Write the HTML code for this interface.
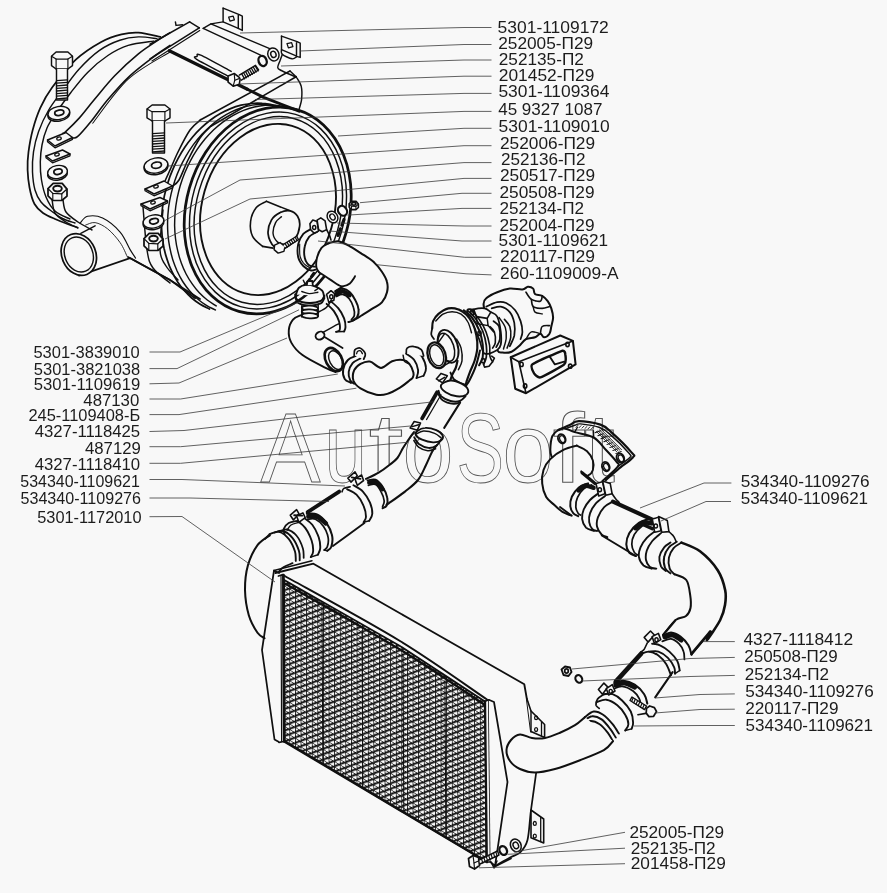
<!DOCTYPE html>
<html><head><meta charset="utf-8"><title>diagram</title>
<style>
html,body{margin:0;padding:0;background:#f8f8f8;}
body{width:887px;height:893px;overflow:hidden;font-family:"Liberation Sans",sans-serif;}
svg{display:block;}
</style></head><body>
<svg width="887" height="893" viewBox="0 0 887 893">
<rect width="887" height="893" fill="#f8f8f8"/>
<g id="labels" style="will-change:transform" fill="#1c1c1c" font-family="'Liberation Sans', sans-serif">
<text x="497.6" y="33.0" textLength="111.2" lengthAdjust="spacingAndGlyphs" font-size="16.3">5301-1109172</text>
<text x="498.2" y="49.4" textLength="95.0" lengthAdjust="spacingAndGlyphs" font-size="16.3">252005-П29</text>
<text x="498.8" y="65.0" textLength="85.0" lengthAdjust="spacingAndGlyphs" font-size="16.3">252135-П2</text>
<text x="498.8" y="80.9" textLength="95.5" lengthAdjust="spacingAndGlyphs" font-size="16.3">201452-П29</text>
<text x="498.4" y="97.0" textLength="111.0" lengthAdjust="spacingAndGlyphs" font-size="16.3">5301-1109364</text>
<text x="498.2" y="114.9" textLength="104.2" lengthAdjust="spacingAndGlyphs" font-size="16.3">45 9327 1087</text>
<text x="498.6" y="131.6" textLength="111.0" lengthAdjust="spacingAndGlyphs" font-size="16.3">5301-1109010</text>
<text x="500.0" y="148.5" textLength="95.1" lengthAdjust="spacingAndGlyphs" font-size="16.3">252006-П29</text>
<text x="500.9" y="164.7" textLength="84.5" lengthAdjust="spacingAndGlyphs" font-size="16.3">252136-П2</text>
<text x="500.0" y="181.2" textLength="95.0" lengthAdjust="spacingAndGlyphs" font-size="16.3">250517-П29</text>
<text x="499.5" y="197.9" textLength="95.0" lengthAdjust="spacingAndGlyphs" font-size="16.3">250508-П29</text>
<text x="499.5" y="213.9" textLength="84.5" lengthAdjust="spacingAndGlyphs" font-size="16.3">252134-П2</text>
<text x="499.5" y="230.8" textLength="95.0" lengthAdjust="spacingAndGlyphs" font-size="16.3">252004-П29</text>
<text x="498.6" y="246.1" textLength="109.5" lengthAdjust="spacingAndGlyphs" font-size="16.3">5301-1109621</text>
<text x="500.0" y="261.9" textLength="95.0" lengthAdjust="spacingAndGlyphs" font-size="16.3">220117-П29</text>
<text x="500.0" y="279.3" textLength="118.6" lengthAdjust="spacingAndGlyphs" font-size="16.3">260-1109009-А</text>
<text x="33.4" y="358.2" textLength="106.4" lengthAdjust="spacingAndGlyphs" font-size="16.3">5301-3839010</text>
<text x="33.8" y="374.5" textLength="106.4" lengthAdjust="spacingAndGlyphs" font-size="16.3">5301-3821038</text>
<text x="33.8" y="390.2" textLength="106.4" lengthAdjust="spacingAndGlyphs" font-size="16.3">5301-1109619</text>
<text x="83.3" y="405.6" textLength="56.0" lengthAdjust="spacingAndGlyphs" font-size="16.3">487130</text>
<text x="28.4" y="421.1" textLength="111.8" lengthAdjust="spacingAndGlyphs" font-size="16.3">245-1109408-Б</text>
<text x="34.7" y="436.5" textLength="105.5" lengthAdjust="spacingAndGlyphs" font-size="16.3">4327-1118425</text>
<text x="84.9" y="453.8" textLength="56.0" lengthAdjust="spacingAndGlyphs" font-size="16.3">487129</text>
<text x="34.7" y="469.6" textLength="105.5" lengthAdjust="spacingAndGlyphs" font-size="16.3">4327-1118410</text>
<text x="20.3" y="486.5" textLength="119.5" lengthAdjust="spacingAndGlyphs" font-size="16.3">534340-1109621</text>
<text x="20.5" y="504.1" textLength="120.5" lengthAdjust="spacingAndGlyphs" font-size="16.3">534340-1109276</text>
<text x="37.2" y="522.8" textLength="104.4" lengthAdjust="spacingAndGlyphs" font-size="16.3">5301-1172010</text>
<text x="740.7" y="487.1" textLength="129.0" lengthAdjust="spacingAndGlyphs" font-size="16.3">534340-1109276</text>
<text x="740.7" y="504.4" textLength="127.4" lengthAdjust="spacingAndGlyphs" font-size="16.3">534340-1109621</text>
<text x="743.4" y="645.4" textLength="109.8" lengthAdjust="spacingAndGlyphs" font-size="16.3">4327-1118412</text>
<text x="744.3" y="662.4" textLength="93.3" lengthAdjust="spacingAndGlyphs" font-size="16.3">250508-П29</text>
<text x="744.7" y="679.9" textLength="84.3" lengthAdjust="spacingAndGlyphs" font-size="16.3">252134-П2</text>
<text x="745.2" y="696.8" textLength="128.5" lengthAdjust="spacingAndGlyphs" font-size="16.3">534340-1109276</text>
<text x="745.2" y="714.2" textLength="93.3" lengthAdjust="spacingAndGlyphs" font-size="16.3">220117-П29</text>
<text x="745.6" y="731.1" textLength="127.4" lengthAdjust="spacingAndGlyphs" font-size="16.3">534340-1109621</text>
<text x="629.4" y="838.0" textLength="94.7" lengthAdjust="spacingAndGlyphs" font-size="16.3">252005-П29</text>
<text x="630.7" y="853.6" textLength="84.9" lengthAdjust="spacingAndGlyphs" font-size="16.3">252135-П2</text>
<text x="630.7" y="868.8" textLength="95.1" lengthAdjust="spacingAndGlyphs" font-size="16.3">201458-П29</text>
</g>
<g font-size="98" font-family="'Liberation Sans', sans-serif" fill="none" stroke="#555" stroke-width="0.9">
<text x="260.5" y="482" textLength="60" lengthAdjust="spacingAndGlyphs">A</text>
<text x="324.5" y="482" textLength="42.5" lengthAdjust="spacingAndGlyphs">u</text>
<text x="368.5" y="482" textLength="35" lengthAdjust="spacingAndGlyphs">t</text>
<text x="402.5" y="482" textLength="51" lengthAdjust="spacingAndGlyphs">o</text>
<text x="456.5" y="482" textLength="47.5" lengthAdjust="spacingAndGlyphs">S</text>
<text x="502.5" y="482" textLength="51" lengthAdjust="spacingAndGlyphs">o</text>
<text x="552.5" y="482" textLength="32" lengthAdjust="spacingAndGlyphs">f</text>
<text x="584" y="482" textLength="31" lengthAdjust="spacingAndGlyphs">t</text>
</g>
<g id="filter" stroke-linecap="round" stroke-linejoin="round">
<path d="M160.4,36.9 C156.7,36.2 144.9,33.1 138.4,32.7 C131.9,32.3 127.7,32.9 121.5,34.4 C115.3,35.9 108.8,37.8 101.2,42.0 C93.6,46.2 84.0,52.1 75.8,59.7 C67.6,67.3 58.0,79.6 52.1,87.6 C46.2,95.6 43.5,100.9 40.3,107.9 C37.1,115.0 34.7,122.6 32.7,129.9 C30.7,137.2 29.4,145.2 28.5,151.9 C27.6,158.6 27.4,164.1 27.6,170.0 C27.8,175.9 28.4,181.8 29.5,187.5 C30.6,193.2 32.2,199.8 34.5,204.0 C36.8,208.2 39.6,210.5 43.0,213.0 C46.4,215.5 50.9,217.2 55.0,219.0 C59.1,220.8 63.8,222.6 67.5,224.0 C71.2,225.4 75.8,226.9 77.5,227.5" fill="none" stroke="#101010" stroke-width="1.74" />
<path d="M157.0,38.6 C153.9,38.3 144.6,36.6 138.4,36.9 C132.2,37.2 126.3,38.0 119.8,40.3 C113.3,42.5 106.3,45.6 99.5,50.4 C92.7,55.2 85.3,62.4 79.2,69.0 C73.1,75.6 68.1,83.2 63.0,90.0 C57.9,96.8 52.8,103.1 48.7,110.0 C44.6,116.9 41.1,124.5 38.6,131.5 C36.1,138.5 34.5,145.1 33.5,151.8 C32.5,158.6 32.2,165.6 32.5,172.0 C32.8,178.4 33.6,185.0 35.0,190.0 C36.4,195.0 38.5,198.7 41.0,202.0 C43.5,205.3 46.4,207.2 50.0,210.0 C53.6,212.8 58.3,216.3 62.5,218.5 C66.7,220.7 72.9,222.2 75.0,223.0" fill="none" stroke="#101010" stroke-width="1.45" />
<path d="M153.6,41.1 C149.4,41.8 135.8,43.0 128.2,45.4 C120.6,47.8 114.7,51.0 107.9,55.5 C101.1,60.0 93.8,66.2 87.6,72.4 C81.4,78.6 76.0,85.9 70.7,92.7 C65.4,99.5 60.0,107.1 56.0,113.0 C52.0,118.9 49.3,122.7 47.0,128.0 C44.7,133.3 43.1,139.3 42.0,145.0 C40.9,150.7 40.4,156.2 40.3,162.0 C40.2,167.8 40.5,174.2 41.5,180.0 C42.5,185.8 43.8,191.8 46.0,197.0 C48.2,202.2 51.0,207.3 55.0,211.0 C59.0,214.7 67.5,217.7 70.0,219.0" fill="none" stroke="#101010" stroke-width="1.45" />
<path d="M128.0,257.0 L170.0,280.0 L200.0,299.0" fill="none" stroke="#101010" stroke-width="1.74" />
<path d="M209.4,309.0 C207.9,308.2 203.2,306.1 200.2,304.2 C197.2,302.4 194.4,300.3 191.7,298.0 C189.0,295.7 186.4,293.1 184.0,290.3 C181.6,287.5 179.4,284.5 177.3,281.4 C175.3,278.2 173.4,274.8 171.7,271.2 C170.0,267.7 168.5,264.0 167.3,260.1 C166.0,256.3 164.9,252.3 164.0,248.2 C163.2,244.1 162.6,239.9 162.1,235.6 C161.7,231.4 161.5,227.0 161.5,222.7 C161.6,218.3 161.8,213.9 162.3,209.5 C162.7,205.1 163.4,200.6 164.3,196.2 C165.2,191.9 166.4,187.5 167.7,183.2 C169.0,178.9 170.5,174.7 172.3,170.6 C174.0,166.5 175.9,162.4 178.0,158.6 C180.1,154.7 182.4,150.9 184.8,147.3 C187.2,143.7 189.8,140.3 192.6,137.0 C195.3,133.8 198.2,130.7 201.2,127.9 C204.2,125.1 207.3,122.4 210.5,120.0 C213.7,117.6 217.0,115.5 220.4,113.6 C223.7,111.7 227.2,110.0 230.6,108.6 C234.1,107.2 237.6,106.1 241.1,105.2 C244.6,104.3 248.2,103.8 251.7,103.5 C255.2,103.1 258.7,103.1 262.2,103.4 C265.7,103.6 270.7,104.7 272.4,104.9" fill="none" stroke="#101010" stroke-width="1.74" />
<path d="M215.4,310.0 C213.9,309.2 209.0,307.0 206.0,305.1 C203.0,303.2 200.1,301.1 197.3,298.7 C194.6,296.3 191.9,293.6 189.5,290.7 C187.1,287.9 184.8,284.8 182.7,281.5 C180.7,278.2 178.8,274.7 177.1,271.0 C175.5,267.3 174.0,263.5 172.7,259.5 C171.5,255.6 170.5,251.4 169.7,247.2 C168.8,243.0 168.3,238.7 167.9,234.3 C167.6,229.9 167.5,225.4 167.6,220.9 C167.7,216.5 168.1,211.9 168.6,207.4 C169.2,202.9 170.0,198.4 171.1,193.9 C172.1,189.4 173.4,185.0 174.8,180.7 C176.3,176.3 178.0,172.0 179.9,167.9 C181.7,163.8 183.8,159.7 186.1,155.8 C188.3,151.9 190.8,148.2 193.4,144.6 C196.0,141.1 198.8,137.7 201.7,134.5 C204.6,131.4 207.6,128.4 210.8,125.7 C213.9,122.9 217.2,120.4 220.5,118.2 C223.9,115.9 227.3,113.9 230.8,112.2 C234.3,110.5 237.9,109.0 241.5,107.8 C245.0,106.7 248.7,105.8 252.3,105.1 C255.9,104.5 259.5,104.2 263.1,104.2 C266.6,104.2 270.2,104.4 273.7,105.0 C277.2,105.5 282.2,107.1 283.9,107.5" fill="none" stroke="#101010" stroke-width="1.45" />
<path d="M216.2,305.9 C214.8,304.9 210.2,302.2 207.3,300.0 C204.5,297.8 201.8,295.3 199.3,292.7 C196.7,290.0 194.3,287.0 192.2,283.9 C190.0,280.8 187.9,277.5 186.1,274.0 C184.3,270.5 182.7,266.8 181.3,263.0 C179.9,259.2 178.7,255.2 177.8,251.1 C176.8,247.0 176.0,242.8 175.5,238.5 C175.0,234.3 174.7,229.9 174.6,225.5 C174.6,221.1 174.8,216.7 175.1,212.2 C175.5,207.8 176.2,203.3 177.0,198.9 C177.9,194.5 178.9,190.0 180.2,185.7 C181.5,181.4 183.0,177.1 184.7,172.9 C186.4,168.8 188.3,164.7 190.4,160.8 C192.5,156.8 194.8,153.0 197.2,149.4 C199.7,145.7 202.3,142.3 205.0,139.0 C207.8,135.7 210.7,132.6 213.7,129.7 C216.8,126.9 219.9,124.2 223.2,121.8 C226.4,119.4 229.8,117.2 233.2,115.3 C236.6,113.4 240.1,111.7 243.6,110.3 C247.1,108.9 250.7,107.8 254.3,107.0 C257.9,106.2 261.5,105.6 265.1,105.3 C268.6,105.1 272.2,105.1 275.7,105.4 C279.2,105.7 282.7,106.2 286.1,107.1 C289.5,108.0 294.3,110.0 296.0,110.5" fill="none" stroke="#101010" stroke-width="1.45" />
<ellipse cx="267.7" cy="210.5" rx="81.5" ry="105.0" transform="rotate(16 267.7 210.5)" fill="#f8f8f8" stroke="#101010" stroke-width="2.75" />
<ellipse cx="268.0" cy="210.5" rx="76.5" ry="100.0" transform="rotate(16 268.0 210.5)" fill="none" stroke="#101010" stroke-width="1.45" />
<ellipse cx="268.3" cy="210.5" rx="72.0" ry="95.5" transform="rotate(16 268.3 210.5)" fill="none" stroke="#101010" stroke-width="1.45" />
<ellipse cx="268.0" cy="209.5" rx="66.0" ry="87.0" transform="rotate(16 268.0 209.5)" fill="none" stroke="#101010" stroke-width="1.89" />
<path d="M189.6,21.9 L150.0,44.2" fill="none" stroke="#101010" stroke-width="1.59" />
<path d="M199.3,27.8 L150.0,58.8" fill="none" stroke="#101010" stroke-width="1.59" />
<path d="M199.7,30.4 L152.0,60.9" fill="none" stroke="#101010" stroke-width="1.16" />
<path d="M189.6,21.9 L199.3,27.8" fill="none" stroke="#101010" stroke-width="1.45" />
<path d="M175.4,21.9 L176.0,25.4 L182.5,24.8" fill="none" stroke="#101010" stroke-width="1.45" />
<path d="M203.2,28.4 L210.9,23.9 L223.1,21.9" fill="none" stroke="#101010" stroke-width="1.45" />
<path d="M210.9,23.9 L269.7,48.7" fill="none" stroke="#101010" stroke-width="1.45" />
<path d="M203.2,28.4 L260.6,55.2" fill="none" stroke="#101010" stroke-width="1.45" />
<path d="M169.3,50.7 L247.4,89.3" fill="none" stroke="#101010" stroke-width="3.19" />
<path d="M247.4,89.3 L263.6,97.4 L299.1,111.2" fill="none" stroke="#101010" stroke-width="2.9" />
<path d="M231.2,71.4 C226.1,68.7 206.4,57.7 200.7,55.2 C195.0,52.7 197.8,55.7 197.1,56.4 C196.4,57.1 191.5,56.0 196.7,59.3 C201.8,62.5 222.9,73.3 228.1,76.1" fill="none" stroke="#101010" stroke-width="1.45" />
<path d="M223.1,8.1 L239.3,14.6 L242.3,16.2 L242.3,30.4 L238.3,28.4 L238.3,15.2" fill="none" stroke="#101010" stroke-width="1.45" />
<path d="M223.1,8.1 L223.1,21.9 L238.3,28.4" fill="none" stroke="#101010" stroke-width="1.45" />
<path d="M228.7,17.2 L233.2,16.2 L234.4,19.9 L230.0,21.1Z" fill="none" stroke="#101010" stroke-width="1.3" />
<path d="M281.5,36.1 L297.1,41.6 L300.2,43.2 L300.2,57.4 L296.5,56.4 L296.5,42.6" fill="none" stroke="#101010" stroke-width="1.45" />
<path d="M281.5,36.1 L281.5,49.7 L296.1,55.8" fill="none" stroke="#101010" stroke-width="1.45" />
<path d="M287.0,43.6 L291.6,42.6 L292.9,46.7 L288.4,47.9Z" fill="none" stroke="#101010" stroke-width="1.3" />
<path d="M281.5,49.7 C281.6,50.5 280.5,52.9 282.3,54.4 C284.1,55.9 289.7,58.4 292.0,58.8 C294.4,59.3 295.8,57.2 296.5,56.8" fill="none" stroke="#101010" stroke-width="1.45" />
<path d="M282.3,54.4 C281.9,55.5 280.6,58.8 279.9,60.9 C279.1,63.0 277.8,65.4 277.8,67.0 C277.9,68.5 277.2,68.3 280.3,70.0 C283.3,71.7 293.5,75.9 296.1,77.1" fill="none" stroke="#101010" stroke-width="1.45" />
<ellipse cx="273.4" cy="54.4" rx="5.5" ry="6.6" transform="rotate(-20 273.4 54.4)" fill="#f8f8f8" stroke="#101010" stroke-width="1.45" />
<ellipse cx="273.4" cy="54.4" rx="2.6" ry="3.2" transform="rotate(-20 273.4 54.4)" fill="none" stroke="#101010" stroke-width="1.45" />
<ellipse cx="262.6" cy="60.9" rx="4.0" ry="5.2" transform="rotate(-20 262.6 60.9)" fill="#f8f8f8" stroke="#101010" stroke-width="2.32" />
<path d="M228.1,76.1 L234.2,73.5 L240.3,78.1 L239.3,84.2 L233.2,86.2 L228.1,82.2Z" fill="#f8f8f8" stroke="#101010" stroke-width="1.59" />
<path d="M234.2,73.5 L234.8,80.2 L233.2,86.2" fill="none" stroke="#101010" stroke-width="1.16" />
<path d="M234.8,80.2 L240.3,78.1" fill="none" stroke="#101010" stroke-width="1.16" />
<path d="M239.3,75.1 L255.5,65.3 L258.6,70.0 L241.3,80.2" fill="#f8f8f8" stroke="#101010" stroke-width="1.45" />
<path d="M241.7,73.9 L244.6,78.9" fill="none" stroke="#101010" stroke-width="1.3" />
<path d="M243.6,72.7 L246.5,77.8" fill="none" stroke="#101010" stroke-width="1.3" />
<path d="M245.6,71.6 L248.4,76.7" fill="none" stroke="#101010" stroke-width="1.3" />
<path d="M247.5,70.5 L250.3,75.5" fill="none" stroke="#101010" stroke-width="1.3" />
<path d="M249.4,69.3 L252.3,74.4" fill="none" stroke="#101010" stroke-width="1.3" />
<path d="M251.4,68.2 L254.2,73.3" fill="none" stroke="#101010" stroke-width="1.3" />
<path d="M253.3,67.0 L256.1,72.1" fill="none" stroke="#101010" stroke-width="1.3" />
<path d="M255.2,65.9 L258.1,71.0" fill="none" stroke="#101010" stroke-width="1.3" />
<path d="M290.0,71.0 L200.7,119.7" fill="none" stroke="#101010" stroke-width="1.59" />
<path d="M296.1,76.7 L210.9,126.2" fill="none" stroke="#101010" stroke-width="1.59" />
<path d="M290.0,71.0 L296.1,76.7" fill="none" stroke="#101010" stroke-width="1.45" />
<path d="M296.1,76.7 C296.9,78.3 300.3,82.5 301.2,86.2 C302.1,90.0 302.0,95.3 301.6,99.4 C301.1,103.6 299.0,109.2 298.5,111.2" fill="none" stroke="#101010" stroke-width="1.45" />
<path d="M170.0,32.7 C168.4,33.7 165.7,35.1 160.4,38.6 C155.1,42.1 146.0,47.6 138.4,53.8 C130.8,60.0 122.0,68.2 114.7,75.8 C107.4,83.4 100.3,92.5 94.4,99.5 C88.5,106.5 84.0,112.8 79.2,118.1 C74.4,123.4 68.4,129.1 65.7,131.6 C63.0,134.1 63.5,133.0 63.0,133.3" fill="none" stroke="#101010" stroke-width="1.59" />
<path d="M170.0,45.4 C167.6,47.1 162.0,50.4 155.3,55.5 C148.6,60.6 137.8,68.5 129.9,75.8 C122.0,83.1 114.4,91.9 107.9,99.5 C101.4,107.1 96.1,115.3 91.0,121.5 C85.9,127.7 80.7,134.0 77.5,136.7 C74.3,139.4 72.6,137.4 71.6,137.5" fill="none" stroke="#101010" stroke-width="1.59" />
<path d="M170.0,52.0 C163.0,56.5 141.1,67.3 128.2,79.2 C115.3,91.1 98.6,115.9 92.7,123.2" fill="none" stroke="#101010" stroke-width="1.01" />
<path d="M200.7,119.7 C198.9,121.4 193.8,124.6 190.0,130.0 C186.2,135.4 181.3,145.3 178.0,152.0 C174.7,158.7 172.2,165.2 170.0,170.0 C167.8,174.8 165.8,179.2 165.0,181.0" fill="none" stroke="#101010" stroke-width="1.59" />
<path d="M210.9,126.2 C209.1,128.2 203.8,132.4 200.0,138.0 C196.2,143.6 191.5,153.0 188.0,160.0 C184.5,167.0 181.6,175.7 179.0,180.0 C176.4,184.3 173.6,185.0 172.5,186.0" fill="none" stroke="#101010" stroke-width="1.59" />
<path d="M143.0,207.0 C143.7,214.2 145.3,239.8 147.0,250.0 C148.7,260.2 149.2,262.5 153.0,268.0 C156.8,273.5 167.2,280.5 170.0,283.0" fill="none" stroke="#101010" stroke-width="1.45" />
<path d="M163.0,210.0 C162.5,216.7 159.5,240.7 160.0,250.0 C160.5,259.3 163.0,261.0 166.0,266.0 C169.0,271.0 176.0,277.7 178.0,280.0" fill="none" stroke="#101010" stroke-width="1.45" />
<path d="M52.0,199.0 C52.5,201.3 52.7,209.2 55.0,213.0 C57.3,216.8 62.2,219.5 66.0,222.0 C69.8,224.5 76.0,227.0 78.0,228.0" fill="none" stroke="#101010" stroke-width="1.45" />
<path d="M63.0,200.0 C63.5,202.0 63.5,208.3 66.0,212.0 C68.5,215.7 73.7,219.0 78.0,222.0 C82.3,225.0 89.7,228.7 92.0,230.0" fill="none" stroke="#101010" stroke-width="1.45" />
<path d="M80.1,223.1 C81.3,222.0 83.8,217.2 87.6,216.3 C91.3,215.5 97.2,215.4 102.6,218.1 C108.0,220.7 115.5,226.8 120.1,232.1 C124.7,237.3 127.5,245.3 130.1,249.6 C132.7,254.0 134.7,256.7 135.6,258.1" fill="none" stroke="#101010" stroke-width="1.16" />
<path d="M85.6,225.1 C87.2,224.7 91.4,222.0 95.1,222.6 C98.8,223.2 103.4,225.5 107.6,228.8 C111.8,232.2 116.9,238.0 120.1,242.6 C123.4,247.2 126.0,254.1 127.1,256.4" fill="none" stroke="#101010" stroke-width="0.87" />
<path d="M80.8,233.3 L95.1,225.8" fill="none" stroke="#101010" stroke-width="1.45" />
<path d="M79.1,275.6 L130.1,258.1 L170.2,280.1 L195.2,298.2" fill="none" stroke="#101010" stroke-width="1.74" />
<ellipse cx="78.8" cy="254.5" rx="17.0" ry="21.5" transform="rotate(-22 78.8 254.5)" fill="#f8f8f8" stroke="#101010" stroke-width="1.74" />
<ellipse cx="78.8" cy="254.5" rx="14.0" ry="18.0" transform="rotate(-22 78.8 254.5)" fill="none" stroke="#101010" stroke-width="1.45" />
<path d="M80.8,233.3 L130.1,258.1" fill="none" stroke="#101010" stroke-width="0.0" />
<path d="M266.3,201.3 C264.7,202.4 259.0,204.2 256.3,207.6 C253.7,210.9 251.2,216.5 250.6,221.3 C250.0,226.1 250.6,232.2 252.6,236.3 C254.6,240.5 260.9,244.7 262.6,246.4" fill="none" stroke="#101010" stroke-width="1.59" />
<path d="M266.3,201.3 L290.1,210.8" fill="none" stroke="#101010" stroke-width="1.59" />
<path d="M262.6,246.4 L273.1,248.1" fill="none" stroke="#101010" stroke-width="1.59" />
<path d="M290.1,210.8 C293.0,211.4 296.0,213.7 297.6,216.3 C299.2,218.9 300.1,222.6 299.6,226.3 C299.2,230.1 297.6,235.2 295.1,238.8 C292.6,242.5 288.2,246.9 284.6,248.1 C281.1,249.4 276.6,248.7 273.9,246.4 C271.1,244.0 268.5,238.2 268.1,233.8 C267.7,229.5 269.4,223.6 271.4,220.1 C273.4,216.5 277.0,214.1 280.1,212.6 C283.2,211.0 287.2,210.2 290.1,210.8Z" fill="#f8f8f8" stroke="#101010" stroke-width="1.74" />
<path d="M281.4,216.8 C280.4,217.8 277.0,219.7 275.6,222.6 C274.2,225.4 272.8,230.6 273.1,233.8 C273.4,237.1 275.7,240.3 277.6,242.1 C279.5,243.9 283.4,244.2 284.6,244.6" fill="none" stroke="#101010" stroke-width="1.45" />
<path d="M274.6,245.1 L280.1,242.6 L285.1,246.4 L283.9,251.4 L278.1,253.1 L274.1,249.6Z" fill="#f8f8f8" stroke="#101010" stroke-width="1.45" />
<path d="M283.1,244.6 L296.6,236.3 L298.6,239.6 L285.1,248.1" fill="#f8f8f8" stroke="#101010" stroke-width="1.3" />
<path d="M285.1,243.6 L287.1,246.9" fill="none" stroke="#101010" stroke-width="1.16" />
<path d="M287.1,242.4 L289.1,245.6" fill="none" stroke="#101010" stroke-width="1.16" />
<path d="M289.1,241.1 L291.1,244.4" fill="none" stroke="#101010" stroke-width="1.16" />
<path d="M291.1,239.9 L293.1,243.1" fill="none" stroke="#101010" stroke-width="1.16" />
<path d="M293.1,238.6 L295.1,241.9" fill="none" stroke="#101010" stroke-width="1.16" />
<path d="M295.1,237.3 L297.1,240.6" fill="none" stroke="#101010" stroke-width="1.16" />
<path d="M349.2,203.8 L351.7,201.3 L356.1,201.3 L358.4,204.1 L358.4,207.5 L355.9,209.6 L351.5,209.6 L349.2,207.3Z" fill="#f8f8f8" stroke="#101010" stroke-width="1.57" />
<path d="M349.2,203.8 L351.5,206.2 L355.9,206.4 L358.4,204.1" fill="none" stroke="#101010" stroke-width="1.17" />
<path d="M351.5,206.2 L351.5,209.6" fill="none" stroke="#101010" stroke-width="1.04" />
<path d="M355.9,206.4 L355.9,209.6" fill="none" stroke="#101010" stroke-width="1.04" />
<ellipse cx="353.8" cy="203.8" rx="2.1" ry="1.4" transform="rotate(0 353.8 203.8)" fill="none" stroke="#101010" stroke-width="1.7" />
<ellipse cx="342.5" cy="210.8" rx="4.2" ry="5.2" transform="rotate(-35 342.5 210.8)" fill="#f8f8f8" stroke="#101010" stroke-width="2.17" />
<ellipse cx="332.5" cy="217.0" rx="5.0" ry="6.2" transform="rotate(-35 332.5 217.0)" fill="#f8f8f8" stroke="#101010" stroke-width="1.45" />
<ellipse cx="332.5" cy="217.0" rx="2.4" ry="3.2" transform="rotate(-35 332.5 217.0)" fill="none" stroke="#101010" stroke-width="1.3" />
<path d="M51.5,56.2 L56.1,52.0 L67.9,52.0 L72.5,56.2 L72.5,65.6 L67.9,69.0 L56.1,69.0 L51.5,65.6Z" fill="#f8f8f8" stroke="#101010" stroke-width="1.45" />
<path d="M51.5,56.2 L56.1,59.1 L67.9,59.1 L72.5,56.2" fill="none" stroke="#101010" stroke-width="1.16" />
<path d="M56.1,59.1 L56.1,69.0" fill="none" stroke="#101010" stroke-width="1.16" />
<path d="M67.9,59.1 L67.9,69.0" fill="none" stroke="#101010" stroke-width="1.16" />
<path d="M56.5,69.0 L56.5,100.0 L67.5,100.0 L67.5,69.0" fill="#f8f8f8" stroke="#101010" stroke-width="1.45" />
<path d="M56.5,98.8 L67.5,98.0" fill="none" stroke="#101010" stroke-width="1.3" />
<path d="M56.5,96.2 L67.5,95.4" fill="none" stroke="#101010" stroke-width="1.3" />
<path d="M56.5,93.6 L67.5,92.8" fill="none" stroke="#101010" stroke-width="1.3" />
<path d="M56.5,91.0 L67.5,90.2" fill="none" stroke="#101010" stroke-width="1.3" />
<path d="M56.5,88.4 L67.5,87.6" fill="none" stroke="#101010" stroke-width="1.3" />
<path d="M56.5,85.8 L67.5,85.0" fill="none" stroke="#101010" stroke-width="1.3" />
<path d="M56.5,83.2 L67.5,82.4" fill="none" stroke="#101010" stroke-width="1.3" />
<path d="M56.5,80.6 L67.5,79.8" fill="none" stroke="#101010" stroke-width="1.3" />
<ellipse cx="58.8" cy="114.6" rx="11.0" ry="6.5" transform="rotate(-10 58.8 114.6)" fill="#f8f8f8" stroke="#101010" stroke-width="1.45" />
<ellipse cx="58.8" cy="113.0" rx="11.0" ry="6.5" transform="rotate(-10 58.8 113.0)" fill="#f8f8f8" stroke="#101010" stroke-width="1.45" />
<ellipse cx="59.3" cy="112.7" rx="4.6" ry="2.7" transform="rotate(-10 59.3 112.7)" fill="none" stroke="#101010" stroke-width="1.74" />
<path d="M47.5,140.0 L66.0,132.5 L72.5,137.5 L55.0,146.0Z" fill="#f8f8f8" stroke="#101010" stroke-width="1.45" />
<path d="M47.5,140.0 L47.5,141.8 L55.0,147.8 L72.5,139.3 L72.5,137.5" fill="none" stroke="#101010" stroke-width="1.3" />
<ellipse cx="59.0" cy="138.5" rx="2.3" ry="1.5" transform="rotate(-15 59.0 138.5)" fill="none" stroke="#101010" stroke-width="1.3" />
<path d="M46.0,156.0 L62.5,150.0 L70.0,154.0 L52.5,161.0Z" fill="#f8f8f8" stroke="#101010" stroke-width="1.45" />
<path d="M46.0,156.0 L46.0,157.8 L52.5,162.8 L70.0,155.8 L70.0,154.0" fill="none" stroke="#101010" stroke-width="1.3" />
<ellipse cx="57.0" cy="154.5" rx="2.3" ry="1.5" transform="rotate(-15 57.0 154.5)" fill="none" stroke="#101010" stroke-width="1.3" />
<ellipse cx="57.5" cy="173.6" rx="10.0" ry="6.5" transform="rotate(-10 57.5 173.6)" fill="#f8f8f8" stroke="#101010" stroke-width="1.45" />
<ellipse cx="57.5" cy="172.0" rx="10.0" ry="6.5" transform="rotate(-10 57.5 172.0)" fill="#f8f8f8" stroke="#101010" stroke-width="1.45" />
<ellipse cx="58.0" cy="171.7" rx="4.2" ry="2.7" transform="rotate(-10 58.0 171.7)" fill="none" stroke="#101010" stroke-width="1.74" />
<path d="M48.0,188.6 L53.2,183.4 L62.2,183.4 L67.0,189.1 L67.0,196.2 L61.8,200.5 L52.8,200.5 L48.0,195.8Z" fill="#f8f8f8" stroke="#101010" stroke-width="1.74" />
<path d="M48.0,188.6 L52.8,193.4 L61.8,193.8 L67.0,189.1" fill="none" stroke="#101010" stroke-width="1.3" />
<path d="M52.8,193.4 L52.8,200.5" fill="none" stroke="#101010" stroke-width="1.16" />
<path d="M61.8,193.8 L61.8,200.5" fill="none" stroke="#101010" stroke-width="1.16" />
<ellipse cx="57.5" cy="188.6" rx="4.3" ry="2.9" transform="rotate(0 57.5 188.6)" fill="none" stroke="#101010" stroke-width="1.89" />
<path d="M147.0,109.0 L152.1,105.0 L164.9,105.0 L170.0,109.0 L170.0,117.8 L164.9,121.0 L152.1,121.0 L147.0,117.8Z" fill="#f8f8f8" stroke="#101010" stroke-width="1.45" />
<path d="M147.0,109.0 L152.1,111.7 L164.9,111.7 L170.0,109.0" fill="none" stroke="#101010" stroke-width="1.16" />
<path d="M152.1,111.7 L152.1,121.0" fill="none" stroke="#101010" stroke-width="1.16" />
<path d="M164.9,111.7 L164.9,121.0" fill="none" stroke="#101010" stroke-width="1.16" />
<path d="M152.5,121.0 L152.5,153.0 L164.5,153.0 L164.5,121.0" fill="#f8f8f8" stroke="#101010" stroke-width="1.45" />
<path d="M152.5,151.8 L164.5,151.0" fill="none" stroke="#101010" stroke-width="1.3" />
<path d="M152.5,149.2 L164.5,148.4" fill="none" stroke="#101010" stroke-width="1.3" />
<path d="M152.5,146.6 L164.5,145.8" fill="none" stroke="#101010" stroke-width="1.3" />
<path d="M152.5,144.0 L164.5,143.2" fill="none" stroke="#101010" stroke-width="1.3" />
<path d="M152.5,141.4 L164.5,140.6" fill="none" stroke="#101010" stroke-width="1.3" />
<path d="M152.5,138.8 L164.5,138.0" fill="none" stroke="#101010" stroke-width="1.3" />
<path d="M152.5,136.2 L164.5,135.4" fill="none" stroke="#101010" stroke-width="1.3" />
<path d="M152.5,133.6 L164.5,132.8" fill="none" stroke="#101010" stroke-width="1.3" />
<ellipse cx="156.0" cy="167.1" rx="12.0" ry="7.5" transform="rotate(-10 156.0 167.1)" fill="#f8f8f8" stroke="#101010" stroke-width="1.45" />
<ellipse cx="156.0" cy="165.5" rx="12.0" ry="7.5" transform="rotate(-10 156.0 165.5)" fill="#f8f8f8" stroke="#101010" stroke-width="1.45" />
<ellipse cx="156.5" cy="165.2" rx="5.0" ry="3.1" transform="rotate(-10 156.5 165.2)" fill="none" stroke="#101010" stroke-width="1.74" />
<path d="M145.0,189.0 L164.0,181.0 L172.5,186.0 L154.0,194.0Z" fill="#f8f8f8" stroke="#101010" stroke-width="1.45" />
<path d="M145.0,189.0 L145.0,190.8 L154.0,195.8 L172.5,187.8 L172.5,186.0" fill="none" stroke="#101010" stroke-width="1.3" />
<ellipse cx="156.0" cy="186.5" rx="2.3" ry="1.5" transform="rotate(-15 156.0 186.5)" fill="none" stroke="#101010" stroke-width="1.3" />
<path d="M141.0,204.0 L160.0,197.5 L167.5,201.0 L150.0,209.0Z" fill="#f8f8f8" stroke="#101010" stroke-width="1.45" />
<path d="M141.0,204.0 L141.0,205.8 L150.0,210.8 L167.5,202.8 L167.5,201.0" fill="none" stroke="#101010" stroke-width="1.3" />
<ellipse cx="153.0" cy="202.5" rx="2.3" ry="1.5" transform="rotate(-15 153.0 202.5)" fill="none" stroke="#101010" stroke-width="1.3" />
<ellipse cx="153.5" cy="223.1" rx="10.5" ry="6.5" transform="rotate(-10 153.5 223.1)" fill="#f8f8f8" stroke="#101010" stroke-width="1.45" />
<ellipse cx="153.5" cy="221.5" rx="10.5" ry="6.5" transform="rotate(-10 153.5 221.5)" fill="#f8f8f8" stroke="#101010" stroke-width="1.45" />
<ellipse cx="154.0" cy="221.2" rx="4.4" ry="2.7" transform="rotate(-10 154.0 221.2)" fill="none" stroke="#101010" stroke-width="1.74" />
<path d="M144.0,238.6 L149.2,233.4 L158.2,233.4 L163.0,239.1 L163.0,246.2 L157.8,250.5 L148.8,250.5 L144.0,245.8Z" fill="#f8f8f8" stroke="#101010" stroke-width="1.74" />
<path d="M144.0,238.6 L148.8,243.4 L157.8,243.8 L163.0,239.1" fill="none" stroke="#101010" stroke-width="1.3" />
<path d="M148.8,243.4 L148.8,250.5" fill="none" stroke="#101010" stroke-width="1.16" />
<path d="M157.8,243.8 L157.8,250.5" fill="none" stroke="#101010" stroke-width="1.16" />
<ellipse cx="153.5" cy="238.6" rx="4.3" ry="2.9" transform="rotate(0 153.5 238.6)" fill="none" stroke="#101010" stroke-width="1.89" />
</g>
<g id="hoses" stroke-linecap="round" stroke-linejoin="round">
<path d="M311.3,228.8 C310.0,229.7 305.5,231.4 303.3,233.9 C301.1,236.5 299.1,240.2 298.2,244.1 C297.4,248.0 297.4,253.6 298.2,257.2 C299.1,260.9 301.2,263.8 303.3,266.0 C305.4,268.2 308.5,269.7 310.6,270.3 C312.6,270.9 314.8,269.7 315.7,269.6" fill="none" stroke="#101010" stroke-width="1.89" />
<path d="M317.1,231.7 C315.8,232.6 311.2,234.4 309.1,236.8 C307.1,239.3 305.5,242.8 304.8,246.3 C304.0,249.8 304.0,254.8 304.8,258.0 C305.5,261.1 307.4,263.8 309.1,265.2 C310.8,266.7 314.0,266.5 314.9,266.7" fill="none" stroke="#101010" stroke-width="1.89" />
<path d="M299.7,244.1 C299.7,246.2 299.3,253.2 300.1,256.5 C300.9,259.9 302.8,262.4 304.5,264.2 C306.1,266.1 309.0,267.1 309.9,267.7" fill="none" stroke="#101010" stroke-width="1.16" />
<path d="M309.9,223.7 L312.8,220.1 L317.1,221.6 L318.6,231.0 L314.2,233.2 L310.6,229.6Z" fill="#f8f8f8" stroke="#101010" stroke-width="1.59" />
<path d="M317.1,220.1 L320.8,217.9 L325.1,220.8 L326.6,229.6 L322.2,231.7 L318.6,229.6Z" fill="#f8f8f8" stroke="#101010" stroke-width="1.59" />
<ellipse cx="314.2" cy="227.4" rx="1.6" ry="2.0" transform="rotate(0 314.2 227.4)" fill="none" stroke="#101010" stroke-width="1.45" />
<path d="M326.6,229.6 C327.1,230.5 328.8,233.6 329.5,235.4 C330.2,237.1 330.7,239.3 331.0,240.0" fill="none" stroke="#101010" stroke-width="1.59" />
<path d="M328.1,243.4 C330.8,242.3 334.6,240.7 338.2,241.2 C341.9,241.7 346.0,244.2 349.9,246.3 C353.8,248.4 357.7,251.0 361.5,253.6 C365.4,256.1 369.8,258.6 373.2,261.6 C376.6,264.6 379.6,268.4 381.9,271.8 C384.2,275.2 386.2,278.6 387.0,282.0 C387.9,285.4 387.9,288.8 387.0,292.2 C386.2,295.6 384.2,299.7 381.9,302.4 C379.6,305.0 376.6,306.0 373.2,308.2 C369.8,310.4 364.9,313.4 361.5,315.5 C358.2,317.5 355.0,319.5 352.8,320.6 C350.6,321.7 350.9,324.6 348.4,322.0 C346.0,319.5 340.4,310.4 338.2,305.3 C336.1,300.2 334.6,294.6 335.3,291.5 C336.1,288.3 342.1,287.7 342.6,286.6 C343.1,285.6 340.4,286.2 338.2,284.9 C336.1,283.6 332.7,281.1 329.5,279.1 C326.4,277.0 321.5,274.5 319.3,272.5 C317.1,270.6 316.8,270.0 316.4,267.4 C316.0,264.9 316.3,260.5 317.1,257.2 C318.0,254.0 319.7,250.1 321.5,247.8 C323.3,245.5 325.3,244.5 328.1,243.4Z" fill="#f8f8f8" stroke="#101010" stroke-width="0.0" />
<path d="M328.1,243.4 C327.0,244.1 323.3,245.5 321.5,247.8 C319.7,250.1 318.0,254.0 317.1,257.2 C316.3,260.5 316.0,264.9 316.4,267.4 C316.8,270.0 318.8,271.7 319.3,272.5" fill="none" stroke="#101010" stroke-width="1.89" />
<path d="M328.1,243.4 C329.8,243.0 334.6,240.7 338.2,241.2 C341.9,241.7 346.0,244.2 349.9,246.3 C353.8,248.4 357.7,251.0 361.5,253.6 C365.4,256.1 369.8,258.6 373.2,261.6 C376.6,264.6 379.6,268.4 381.9,271.8 C384.2,275.2 386.2,278.6 387.0,282.0 C387.9,285.4 387.9,288.8 387.0,292.2 C386.2,295.6 384.2,299.7 381.9,302.4 C379.6,305.0 376.6,306.0 373.2,308.2 C369.8,310.4 364.9,313.4 361.5,315.5 C358.2,317.5 355.0,319.5 352.8,320.6 C350.6,321.7 349.2,321.8 348.4,322.0" fill="none" stroke="#101010" stroke-width="2.03" />
<path d="M319.3,272.5 C321.0,273.6 326.4,277.0 329.5,279.1 C332.7,281.1 336.1,283.7 338.2,284.9 C340.4,286.1 340.7,286.6 342.6,286.4 C344.6,286.1 348.0,284.9 349.9,283.4 C351.8,282.0 353.4,278.8 354.3,277.6 C355.1,276.4 354.9,276.4 355.0,276.2" fill="none" stroke="#101010" stroke-width="1.89" />
<path d="M342.6,286.6 L335.3,291.0" fill="none" stroke="#101010" stroke-width="1.74" />
<path d="M335.3,291.5 C336.6,291.0 340.2,288.4 342.6,288.5 C345.0,288.7 347.7,290.1 349.9,292.2 C352.1,294.2 354.3,298.0 355.7,300.9 C357.2,303.8 358.4,307.0 358.6,309.7 C358.9,312.3 358.2,315.1 357.2,316.9 C356.2,318.8 353.5,320.0 352.8,320.6" fill="none" stroke="#101010" stroke-width="2.03" />
<path d="M336.1,296.5 C337.2,296.2 340.4,294.0 342.6,294.4 C344.8,294.7 347.4,296.5 349.2,298.7 C351.0,300.9 352.7,304.7 353.5,307.5 C354.4,310.3 354.6,313.4 354.3,315.5 C353.9,317.5 351.8,319.1 351.4,319.8" fill="none" stroke="#101010" stroke-width="1.74" />
<path d="M336.5,293.9 C337.6,293.5 340.7,291.1 342.9,291.3 C345.1,291.5 348.5,294.5 349.6,295.1" fill="none" stroke="#101010" stroke-width="4.35" />
<path d="M330.2,300.9 C331.6,302.1 335.9,305.3 338.2,308.2 C340.6,311.1 342.9,315.2 344.1,318.4 C345.3,321.5 345.5,324.9 345.5,327.1 C345.5,329.3 344.3,330.8 344.1,331.5" fill="none" stroke="#101010" stroke-width="1.89" />
<path d="M326.6,303.8 C327.8,305.0 331.8,308.2 333.9,311.1 C335.9,314.0 338.0,318.2 339.0,321.3 C339.9,324.5 340.2,328.3 339.7,330.0 C339.2,331.8 336.7,331.5 336.1,331.8" fill="none" stroke="#101010" stroke-width="1.89" />
<path d="M344.1,331.5 L336.1,331.8" fill="none" stroke="#101010" stroke-width="1.45" />
<path d="M326.6,294.4 L331.0,290.7 L334.6,293.6 L333.9,300.2 L328.8,302.4Z" fill="#f8f8f8" stroke="#101010" stroke-width="1.59" />
<ellipse cx="331.3" cy="296.8" rx="1.6" ry="2.0" transform="rotate(0 331.3 296.8)" fill="none" stroke="#101010" stroke-width="1.45" />
<path d="M344.1,219.4 L341.9,225.2" fill="none" stroke="#101010" stroke-width="3.19" />
<path d="M340.4,228.8 L338.0,235.4" fill="none" stroke="#101010" stroke-width="3.19" />
<path d="M313.8,273.2 L311.3,276.9" fill="none" stroke="#101010" stroke-width="2.9" />
<path d="M309.9,279.1 L306.9,283.2" fill="none" stroke="#101010" stroke-width="2.9" />
<path d="M296.0,294.4 C296.5,293.3 297.2,289.4 298.9,287.8 C300.6,286.2 303.5,285.1 306.2,284.9 C308.9,284.7 312.3,285.4 314.9,286.4 C317.6,287.3 320.7,289.1 322.2,290.7 C323.7,292.4 323.7,295.3 324.0,296.3" fill="#f8f8f8" stroke="#101010" stroke-width="1.89" />
<path d="M295.3,294.4 C295.7,295.3 295.2,298.7 297.5,300.2 C299.8,301.6 305.2,303.0 309.1,303.1 C313.0,303.2 318.2,302.1 320.8,300.9 C323.3,299.7 323.8,296.7 324.4,295.8" fill="none" stroke="#101010" stroke-width="2.03" />
<path d="M295.3,296.8 C295.7,297.8 295.5,301.2 297.8,302.7 C300.1,304.1 305.3,305.5 309.1,305.6 C313.0,305.7 318.2,304.6 320.8,303.4 C323.3,302.2 323.8,299.1 324.4,298.3" fill="none" stroke="#101010" stroke-width="1.74" />
<path d="M295.3,294.4 L295.3,296.8" fill="none" stroke="#101010" stroke-width="1.45" />
<path d="M324.4,295.8 L324.4,298.3" fill="none" stroke="#101010" stroke-width="1.45" />
<path d="M306.9,284.9 L307.4,281.3 L312.3,280.8 L312.8,285.2" fill="#f8f8f8" stroke="#101010" stroke-width="1.74" />
<path d="M304.8,283.4 L303.3,280.2" fill="none" stroke="#101010" stroke-width="1.45" />
<path d="M315.7,285.6 L318.2,288.5 L314.9,290.7" fill="none" stroke="#101010" stroke-width="1.45" />
<path d="M301.8,291.5 C303.1,291.8 306.5,293.5 309.1,293.6 C311.8,293.8 316.4,292.4 317.9,292.2" fill="none" stroke="#101010" stroke-width="1.45" />
<ellipse cx="309.9" cy="308.2" rx="8.2" ry="2.6" transform="rotate(3 309.9 308.2)" fill="#f8f8f8" stroke="#101010" stroke-width="1.74" />
<ellipse cx="309.9" cy="312.0" rx="8.2" ry="2.6" transform="rotate(3 309.9 312.0)" fill="#f8f8f8" stroke="#101010" stroke-width="1.74" />
<ellipse cx="309.9" cy="315.8" rx="8.2" ry="2.6" transform="rotate(3 309.9 315.8)" fill="#f8f8f8" stroke="#101010" stroke-width="1.74" />
<path d="M301.8,305.6 L301.8,316.9" fill="none" stroke="#101010" stroke-width="1.45" />
<path d="M318.2,305.3 L318.2,316.2" fill="none" stroke="#101010" stroke-width="1.45" />
<path d="M301.3,315.1 C299.9,315.8 295.1,317.1 293.0,319.6 C290.9,322.1 289.1,326.2 288.8,330.1 C288.5,333.9 289.0,338.4 291.3,342.6 C293.6,346.8 296.9,350.9 302.5,355.1 C308.2,359.3 319.5,364.8 325.1,367.6 C330.6,370.4 333.8,371.4 335.6,372.1" fill="none" stroke="#101010" stroke-width="1.89" />
<path d="M317.5,312.5 C319.0,311.7 324.0,309.6 326.3,307.5 C328.6,305.5 330.5,301.3 331.3,300.0" fill="none" stroke="#101010" stroke-width="1.59" />
<path d="M324.6,337.1 L342.6,348.1" fill="none" stroke="#101010" stroke-width="1.74" />
<ellipse cx="320.0" cy="335.6" rx="4.6" ry="3.8" transform="rotate(-30 320.0 335.6)" fill="#f8f8f8" stroke="#101010" stroke-width="1.89" />
<path d="M322.5,332.6 C324.4,331.5 331.1,327.8 333.8,326.3 C336.5,324.9 338.0,324.2 338.8,323.8" fill="none" stroke="#101010" stroke-width="1.45" />
<ellipse cx="333.8" cy="359.6" rx="8.0" ry="12.5" transform="rotate(-28 333.8 359.6)" fill="#f8f8f8" stroke="#101010" stroke-width="2.61" />
<ellipse cx="335.6" cy="360.1" rx="6.0" ry="10.0" transform="rotate(-28 335.6 360.1)" fill="none" stroke="#101010" stroke-width="1.45" />
<path d="M355.8,356.0 C354.5,356.7 350.0,357.8 347.9,360.0 C345.8,362.2 343.7,366.3 343.2,369.5 C342.6,372.6 343.4,376.7 344.7,378.9 C346.1,381.2 350.0,382.2 351.0,382.9" fill="none" stroke="#101010" stroke-width="1.89" />
<path d="M360.5,358.4 C359.2,359.2 354.6,360.9 352.6,363.1 C350.7,365.4 349.1,368.9 348.7,371.8 C348.3,374.7 349.3,378.5 350.3,380.5 C351.2,382.5 353.5,383.1 354.2,383.7" fill="none" stroke="#101010" stroke-width="1.89" />
<path d="M354.2,355.3 C354.3,354.3 353.9,350.9 355.0,349.7 C356.0,348.5 358.8,347.5 360.5,348.2 C362.2,348.8 364.7,351.8 365.3,353.7 C365.8,355.5 363.9,358.3 363.7,359.2" fill="#f8f8f8" stroke="#101010" stroke-width="1.74" />
<path d="M356.6,353.7 C356.8,353.3 357.0,351.8 357.7,351.3 C358.3,350.8 359.7,350.4 360.5,350.8 C361.3,351.2 362.1,353.2 362.4,353.7" fill="none" stroke="#101010" stroke-width="1.3" />
<path d="M354.2,370.2 C355.4,367.5 357.9,365.4 360.5,363.9 C363.1,362.5 366.6,360.9 370.0,361.6 C373.4,362.2 377.4,367.9 381.0,367.9 C384.7,367.8 388.4,362.6 392.1,361.2 C395.8,359.9 400.2,359.5 403.1,360.0 C406.0,360.4 407.7,361.8 409.4,363.9 C411.2,366.0 412.8,370.4 413.4,372.6 C414.0,374.8 413.6,376.0 412.9,377.3 C412.3,378.7 411.6,378.8 409.4,380.5 C407.3,382.2 403.7,385.4 400.0,387.6 C396.3,389.8 391.3,392.7 387.3,393.9 C383.4,395.1 380.8,395.6 376.3,394.7 C371.8,393.8 364.3,390.8 360.5,388.4 C356.7,386.0 354.5,383.5 353.4,380.5 C352.4,377.5 353.0,373.0 354.2,370.2Z" fill="#f8f8f8" stroke="#101010" stroke-width="2.03" />
<path d="M414.2,348.9 C415.5,350.3 420.1,353.7 422.1,356.8 C424.0,360.0 425.8,364.7 426.0,367.9 C426.3,371.0 424.0,374.5 423.6,375.8" fill="none" stroke="#101010" stroke-width="1.89" />
<path d="M406.3,353.7 C407.6,354.7 412.2,357.2 414.2,360.0 C416.2,362.7 417.7,367.2 418.1,370.2 C418.5,373.3 416.8,376.8 416.5,378.1" fill="none" stroke="#101010" stroke-width="1.89" />
<path d="M423.6,375.8 L416.5,378.1" fill="none" stroke="#101010" stroke-width="1.45" />
<path d="M406.3,353.7 C406.4,352.8 405.8,349.3 407.1,348.2 C408.4,347.0 411.8,346.3 414.2,346.6 C416.5,346.8 419.7,348.2 421.3,349.7 C422.9,351.3 423.3,355.0 423.6,356.0" fill="#f8f8f8" stroke="#101010" stroke-width="1.74" />
<path d="M403.1,355.3 C403.4,356.3 403.7,360.1 404.7,361.6 C405.8,363.0 408.7,363.5 409.4,363.9" fill="none" stroke="#101010" stroke-width="1.45" />
</g>
<g id="turbo" stroke-linecap="round" stroke-linejoin="round">
<path d="M483.6,304.8 C483.2,299.4 485.0,299.7 487.2,297.6 C489.5,295.5 493.4,293.7 497.2,292.2 C500.9,290.7 505.6,289.1 509.8,288.6 C514.0,288.2 519.4,289.8 522.4,289.5 C525.4,289.2 526.0,287.0 527.8,286.8 C529.6,286.7 532.0,287.4 533.2,288.6 C534.4,289.8 533.5,292.8 535.0,294.0 C536.5,295.2 540.1,294.6 542.2,295.8 C544.3,297.0 546.2,299.1 547.7,301.2 C549.2,303.3 550.4,305.7 551.3,308.4 C552.2,311.2 553.1,314.5 553.1,317.5 C553.1,320.5 551.9,323.8 551.3,326.5 C550.7,329.2 550.7,331.9 549.5,333.7 C548.3,335.5 545.6,337.3 544.0,337.3 C542.5,337.3 541.9,333.7 540.4,333.7 C538.9,333.7 537.4,336.4 535.0,337.3 C532.6,338.2 528.7,337.6 526.0,339.1 C523.3,340.6 521.2,344.2 518.8,346.3 C516.4,348.4 514.3,350.7 511.6,351.7 C508.9,352.8 505.0,352.9 502.6,352.6 C500.2,352.3 499.3,353.7 497.2,349.9 C495.0,346.2 492.2,337.6 489.9,330.1 C487.7,322.6 484.1,310.3 483.6,304.8Z" fill="#f8f8f8" stroke="#101010" stroke-width="2.03" />
<path d="M486.3,306.6 C488.1,305.9 493.8,302.7 497.2,302.1 C500.5,301.5 503.2,301.7 506.2,303.0 C509.2,304.4 512.8,307.2 515.2,310.3 C517.6,313.3 519.4,317.5 520.6,321.1 C521.8,324.7 522.4,328.9 522.4,331.9 C522.4,334.9 520.9,337.9 520.6,339.1" fill="none" stroke="#101010" stroke-width="1.74" />
<path d="M491.7,308.4 C493.2,308.1 497.8,306.0 500.8,306.6 C503.8,307.2 507.5,309.4 509.8,312.1 C512.0,314.8 513.5,319.0 514.3,322.9 C515.0,326.8 515.0,331.6 514.3,335.5 C513.5,339.4 510.5,344.5 509.8,346.3" fill="none" stroke="#101010" stroke-width="1.74" />
<path d="M504.4,319.3 C505.3,320.5 508.7,323.5 509.8,326.5 C510.8,329.5 511.1,333.7 510.7,337.3 C510.2,340.9 507.7,346.3 507.1,348.1" fill="none" stroke="#101010" stroke-width="1.59" />
<path d="M499.0,317.5 C500.0,319.1 504.1,323.9 505.3,327.4 C506.5,330.8 506.5,334.6 506.2,338.2 C505.9,341.8 503.9,347.2 503.5,349.0" fill="none" stroke="#101010" stroke-width="1.45" />
<path d="M526.0,292.2 C526.9,293.4 529.0,297.9 531.4,299.4 C533.8,300.9 538.6,301.8 540.4,301.2 C542.2,300.6 541.9,296.7 542.2,295.8" fill="none" stroke="#101010" stroke-width="1.59" />
<path d="M531.4,299.4 C531.7,300.6 531.4,305.1 533.2,306.6 C535.0,308.1 539.5,308.4 542.2,308.4 C544.9,308.4 548.3,306.9 549.5,306.6" fill="none" stroke="#101010" stroke-width="1.59" />
<path d="M533.2,306.6 C533.5,307.5 533.5,310.9 535.0,312.1 C536.5,313.3 541.0,313.6 542.2,313.9" fill="none" stroke="#101010" stroke-width="1.45" />
<path d="M540.4,333.7 C540.7,332.5 540.7,327.8 542.2,326.5 C543.7,325.1 548.3,325.7 549.5,325.6" fill="none" stroke="#101010" stroke-width="1.59" />
<path d="M526.0,339.1 C526.9,337.9 529.0,332.8 531.4,331.9 C533.8,331.0 538.9,333.4 540.4,333.7" fill="none" stroke="#101010" stroke-width="1.45" />
<path d="M510.7,357.2 L560.3,335.5 L572.9,340.9 L575.6,364.4 L526.0,393.2 L515.2,388.7Z" fill="#f8f8f8" stroke="#101010" stroke-width="2.03" />
<path d="M510.7,357.2 L518.8,361.7 L572.9,340.9" fill="none" stroke="#101010" stroke-width="1.59" />
<path d="M518.8,361.7 L526.0,393.2" fill="none" stroke="#101010" stroke-width="1.59" />
<path d="M532.3,364.4 C534.7,362.5 559.3,351.7 562.1,350.8 C564.8,350.0 565.2,353.3 565.3,354.4 C565.5,355.6 566.3,362.5 564.2,364.4 C562.2,366.3 543.0,376.6 540.4,377.4 C537.9,378.1 534.8,374.5 534.1,373.4 C533.5,372.3 530.0,366.2 532.3,364.4Z" fill="none" stroke="#101010" stroke-width="2.46" />
<path d="M549.5,356.2 L554.9,364.4 L564.2,361.7" fill="none" stroke="#101010" stroke-width="1.89" />
<ellipse cx="521.5" cy="364.4" rx="1.7" ry="2.1" transform="rotate(0 521.5 364.4)" fill="none" stroke="#101010" stroke-width="1.59" />
<ellipse cx="567.5" cy="344.5" rx="1.7" ry="2.1" transform="rotate(0 567.5 344.5)" fill="none" stroke="#101010" stroke-width="1.59" />
<ellipse cx="570.2" cy="366.2" rx="1.7" ry="2.1" transform="rotate(0 570.2 366.2)" fill="none" stroke="#101010" stroke-width="1.59" />
<ellipse cx="525.1" cy="386.0" rx="1.7" ry="2.1" transform="rotate(0 525.1 386.0)" fill="none" stroke="#101010" stroke-width="1.59" />
<path d="M467.4,312.1 C466.5,307.1 470.8,310.0 473.7,309.4 C476.6,308.7 481.7,308.0 484.5,308.4 C487.4,308.9 488.7,310.7 490.8,312.1 C492.9,313.4 495.5,313.3 497.2,316.6 C498.8,319.9 500.2,327.2 500.8,331.9 C501.4,336.6 501.4,341.5 500.8,344.5 C500.2,347.5 499.9,348.4 497.2,349.9 C494.4,351.4 487.5,355.3 484.5,353.5 C481.5,351.7 482.0,346.0 479.1,339.1 C476.3,332.2 468.3,317.0 467.4,312.1Z" fill="#f8f8f8" stroke="#101010" stroke-width="1.74" />
<path d="M473.7,309.4 L476.4,316.6 L487.2,318.4 L490.8,312.1" fill="none" stroke="#101010" stroke-width="1.59" />
<path d="M476.4,316.6 L477.3,323.8 L488.1,325.6 L487.2,318.4" fill="none" stroke="#101010" stroke-width="1.45" />
<path d="M493.5,321.1 C494.4,322.0 497.9,323.5 499.0,326.5 C500.0,329.5 500.3,335.7 499.9,339.1 C499.4,342.6 496.8,345.9 496.2,347.2" fill="none" stroke="#101010" stroke-width="1.74" />
<path d="M489.9,326.5 C490.7,327.4 493.5,329.2 494.4,331.9 C495.3,334.6 495.6,340.0 495.3,342.7 C495.0,345.4 493.1,347.2 492.6,348.1" fill="none" stroke="#101010" stroke-width="1.59" />
<path d="M488.1,325.6 L493.5,331.9" fill="none" stroke="#101010" stroke-width="1.45" />
<path d="M463.8,310.3 C465.1,311.5 469.3,314.2 471.9,317.5 C474.5,320.8 477.3,325.6 479.1,330.1 C480.9,334.6 482.1,340.0 482.7,344.5 C483.3,349.0 483.3,353.7 482.7,357.2 C482.1,360.6 479.7,363.9 479.1,365.3" fill="none" stroke="#101010" stroke-width="2.03" />
<path d="M467.4,310.3 C468.7,311.6 472.9,314.9 475.5,318.4 C478.1,321.8 480.9,326.5 482.7,331.0 C484.5,335.5 485.7,341.1 486.3,345.4 C486.9,349.8 486.8,354.0 486.3,357.2 C485.9,360.3 484.1,363.2 483.6,364.4" fill="none" stroke="#101010" stroke-width="1.74" />
<path d="M470.1,309.4 C471.6,311.0 476.5,315.5 479.1,319.3 C481.8,323.0 484.2,327.5 486.0,331.9 C487.7,336.3 488.9,341.4 489.6,345.4 C490.2,349.5 489.4,353.5 489.9,356.2 C490.4,359.0 492.2,360.8 492.6,361.7" fill="none" stroke="#101010" stroke-width="1.59" />
<path d="M483.6,364.4 L484.5,367.1 L489.0,366.2 L492.6,361.7 L494.4,358.1 L491.7,356.2" fill="none" stroke="#101010" stroke-width="1.59" />
<ellipse cx="479.5" cy="333.3" rx="1.6" ry="2.2" transform="rotate(0 479.5 333.3)" fill="none" stroke="#101010" stroke-width="1.59" />
<ellipse cx="483.1" cy="360.8" rx="1.6" ry="2.2" transform="rotate(0 483.1 360.8)" fill="none" stroke="#101010" stroke-width="1.59" />
<ellipse cx="472.3" cy="312.4" rx="1.6" ry="2.2" transform="rotate(0 472.3 312.4)" fill="none" stroke="#101010" stroke-width="1.59" />
<path d="M432.2,328.3 C432.4,327.1 432.1,323.5 433.1,321.1 C434.2,318.7 436.0,316.0 438.5,313.9 C441.1,311.8 445.1,309.2 448.4,308.4 C451.8,307.7 455.4,308.3 458.4,309.4 C461.4,310.4 464.1,312.4 466.5,314.8 C468.9,317.2 471.1,320.3 472.8,323.8 C474.5,327.2 475.7,331.4 476.4,335.5 C477.2,339.6 477.6,343.9 477.3,348.1 C477.0,352.3 475.8,356.8 474.6,360.8 C473.4,364.7 471.4,368.3 470.1,371.6 C468.8,374.9 467.8,377.8 466.8,380.6 C465.9,383.4 465.9,386.8 464.3,388.2 C462.8,389.5 459.8,389.5 457.5,388.7 C455.1,387.9 451.2,385.6 450.3,383.3 C449.4,381.0 451.2,377.7 452.1,375.2 C453.0,372.6 454.8,370.4 455.7,368.0 C456.6,365.6 457.2,362.0 457.5,360.8" fill="#f8f8f8" stroke="#101010" stroke-width="2.17" />
<path d="M435.8,321.1 C437.0,319.9 440.3,315.8 443.0,314.2 C445.7,312.7 449.1,311.7 452.1,311.7 C455.1,311.7 458.4,312.5 461.1,314.2 C463.7,315.9 466.2,318.9 467.9,322.0 C469.7,325.1 470.9,331.0 471.5,332.8" fill="none" stroke="#101010" stroke-width="1.45" />
<path d="M432.2,328.3 C432.1,329.3 431.0,332.8 431.3,334.6 C431.6,336.4 433.6,338.4 434.0,339.1" fill="none" stroke="#101010" stroke-width="1.74" />
<ellipse cx="448.1" cy="346.3" rx="9.5" ry="17.0" transform="rotate(-18 448.1 346.3)" fill="#f8f8f8" stroke="#101010" stroke-width="1.89" />
<ellipse cx="446.3" cy="347.2" rx="7.5" ry="14.5" transform="rotate(-18 446.3 347.2)" fill="#f8f8f8" stroke="#101010" stroke-width="1.59" />
<ellipse cx="436.7" cy="355.3" rx="8.8" ry="13.2" transform="rotate(-18 436.7 355.3)" fill="#f8f8f8" stroke="#101010" stroke-width="2.32" />
<ellipse cx="436.7" cy="355.3" rx="6.6" ry="10.8" transform="rotate(-18 436.7 355.3)" fill="none" stroke="#101010" stroke-width="1.45" />
<path d="M438.5,342.4 L444.8,333.3" fill="none" stroke="#101010" stroke-width="1.45" />
<path d="M439.1,368.3 L449.4,362.6" fill="none" stroke="#101010" stroke-width="1.45" />
<path d="M456.6,339.1 C457.3,340.6 460.2,344.5 461.1,348.1 C462.0,351.7 462.4,357.2 462.0,360.8 C461.5,364.4 459.0,368.3 458.4,369.8" fill="none" stroke="#101010" stroke-width="1.45" />
<path d="M450.5,372.6 C451.0,373.7 452.1,377.2 453.6,378.9 C455.2,380.6 457.8,381.8 459.9,382.9 C462.1,383.9 465.2,384.8 466.3,385.2" fill="none" stroke="#101010" stroke-width="1.89" />
<path d="M480.0,350.5 C479.3,353.1 477.5,361.3 475.7,366.3 C474.0,371.3 471.0,377.3 469.4,380.5 C467.8,383.7 466.8,384.5 466.3,385.2" fill="none" stroke="#101010" stroke-width="2.03" />
<path d="M437.1,392.3 L459.9,402.6 L444.2,427.9 L422.1,418.4Z" fill="#f8f8f8" stroke="#101010" stroke-width="0.0" />
<path d="M441.0,385.2 C441.8,383.3 447.1,380.8 450.5,380.5 C453.9,380.2 458.6,382.2 461.5,383.7 C464.4,385.1 467.1,387.3 467.8,389.2 C468.6,391.0 468.1,393.5 466.3,394.7 C464.4,395.9 460.2,396.7 456.8,396.3 C453.4,395.9 448.4,394.2 445.7,392.3 C443.1,390.5 440.2,387.2 441.0,385.2Z" fill="#f8f8f8" stroke="#101010" stroke-width="1.89" />
<path d="M438.6,390.8 C439.0,391.7 439.0,394.6 441.0,396.3 C443.0,398.0 447.3,400.2 450.5,401.0 C453.6,401.8 457.5,401.8 459.9,401.0 C462.4,400.2 464.6,397.1 465.5,396.3" fill="none" stroke="#101010" stroke-width="1.89" />
<path d="M437.9,393.1 C438.6,394.3 440.0,398.4 442.6,400.2 C445.2,402.0 450.7,403.5 453.6,403.9 C456.6,404.2 459.2,402.5 460.3,402.3" fill="none" stroke="#101010" stroke-width="1.74" />
<path d="M436.3,378.9 L441.0,373.4 L447.3,375.8 L442.6,382.9Z" fill="#f8f8f8" stroke="#101010" stroke-width="1.59" />
<path d="M438.6,380.8 L444.5,377.3" fill="none" stroke="#101010" stroke-width="1.45" />
<path d="M437.1,392.3 L422.1,418.4" fill="none" stroke="#101010" stroke-width="3.77" />
<path d="M459.9,402.9 L444.2,427.9" fill="none" stroke="#101010" stroke-width="2.03" />
<path d="M441.0,394.7 L426.5,419.6" fill="none" stroke="#101010" stroke-width="1.16" />
<path d="M410.2,427.9 L414.2,421.5 L420.5,423.1 L417.3,430.2Z" fill="#f8f8f8" stroke="#101010" stroke-width="1.59" />
<path d="M412.3,426.6 L418.6,424.7" fill="none" stroke="#101010" stroke-width="1.45" />
<path d="M417.3,431.0 C418.9,429.8 422.1,428.0 425.2,427.9 C428.4,427.7 433.4,429.0 436.3,430.2 C439.2,431.5 441.8,433.7 442.6,435.4 C443.4,437.1 442.6,439.3 441.0,440.5 C439.4,441.6 436.3,442.5 433.1,442.4 C430.0,442.2 425.0,440.9 422.1,439.7 C419.2,438.5 416.5,436.4 415.8,435.0 C415.0,433.5 415.8,432.2 417.3,431.0Z" fill="#f8f8f8" stroke="#101010" stroke-width="1.89" />
<path d="M415.8,434.2 C417.1,433.6 420.5,431.1 423.6,431.0 C426.8,430.9 431.8,432.2 434.7,433.4 C437.6,434.5 440.2,437.2 441.3,438.0" fill="none" stroke="#101010" stroke-width="1.45" />
<path d="M414.2,437.3 C415.0,438.4 416.5,442.2 418.9,444.0 C421.3,445.7 425.4,447.6 428.4,447.9 C431.3,448.2 434.4,447.0 436.6,445.5 C438.7,444.1 440.5,440.3 441.3,439.2" fill="none" stroke="#101010" stroke-width="1.89" />
<path d="M413.9,440.5 C414.7,441.6 416.3,445.4 418.6,447.1 C420.9,448.8 424.9,450.5 427.8,450.7 C430.6,451.0 434.3,449.0 435.6,448.7" fill="none" stroke="#101010" stroke-width="1.59" />
</g>
<defs><pattern id="mesh" width="5.6" height="5.4" patternUnits="userSpaceOnUse" patternTransform="translate(283.8 579.7) skewY(30.8)"><rect width="5.6" height="5.4" fill="#fbfbfb"/><path d="M0,0V5.4M0,0H5.6M0,5.4L5.6,0M-5.6,5.4L0,0M5.6,5.4L11.2,0" stroke="#0c0c0c" stroke-width="1.5" fill="none"/></pattern></defs>
<g id="rad" stroke-linecap="round" stroke-linejoin="round">
<path d="M279.0,573.0 L274.0,570.5 L262.0,650.0 L274.5,739.5 L279.0,742.0" fill="#f8f8f8" stroke="#101010" stroke-width="1.74" />
<path d="M283.0,575.0 L313.4,563.7 L411.8,620.0 L524.3,684.3 L526.8,698.6 L494.0,702.0 L487.0,699.5 L400.0,643.0" fill="#f8f8f8" stroke="none" stroke-width="0.0" />
<path d="M275.4,573.0 L313.4,563.7 L411.8,620.0 L524.3,684.3 L526.8,698.6 L531.0,731.6" fill="none" stroke="#101010" stroke-width="1.89" />
<path d="M274.0,570.5 L312.0,560.8" fill="none" stroke="#101010" stroke-width="1.45" />
<path d="M283.0,575.0 C302.5,586.0 366.0,620.2 400.0,641.0 C434.0,661.8 472.5,689.8 487.0,699.5" fill="none" stroke="#101010" stroke-width="1.89" />
<path d="M283.8,579.7 L400.0,646.0 L485.0,701.5 L487.0,862.0 L284.6,741.3Z" fill="url(#mesh)" stroke="#101010" stroke-width="1.74" />
<path d="M284.0,583.0 C303.3,594.1 366.5,629.2 400.0,649.5 C433.5,669.8 470.8,695.8 485.0,705.0" fill="none" stroke="#101010" stroke-width="2.32" />
<path d="M284.3,741.3 L487.0,862.0" fill="none" stroke="#101010" stroke-width="2.61" />
<path d="M322.0,606.6 L322.8,763.6" fill="none" stroke="#101010" stroke-width="1.01" />
<path d="M362.0,630.6 L362.8,787.5" fill="none" stroke="#101010" stroke-width="1.01" />
<path d="M403.0,655.2 L403.8,812.0" fill="none" stroke="#101010" stroke-width="1.01" />
<path d="M445.0,680.4 L445.8,837.1" fill="none" stroke="#101010" stroke-width="1.01" />
<path d="M278.4,576.0 L283.0,574.7 L283.8,741.5 L279.0,742.3" fill="#f8f8f8" stroke="#101010" stroke-width="1.74" />
<path d="M281.0,576.0 L281.6,741.5" fill="none" stroke="#101010" stroke-width="1.16" />
<path d="M283.5,575.0 L284.2,741.5" fill="none" stroke="#101010" stroke-width="2.61" />
<path d="M484.6,701.5 L488.8,699.8 L490.5,862.0 L486.5,862.0" fill="#f8f8f8" stroke="#101010" stroke-width="1.59" />
<path d="M485.0,701.5 L486.8,862.0" fill="none" stroke="#101010" stroke-width="2.32" />
<path d="M488.8,699.8 L494.0,702.0 L507.5,782.0 L498.0,846.2 L495.0,866.0 L490.5,862.0" fill="#f8f8f8" stroke="#101010" stroke-width="1.74" />
<path d="M494.0,702.0 L513.8,680.0" fill="none" stroke="#101010" stroke-width="0.0" />
<path d="M536.2,772.5 C535.4,778.8 532.5,798.8 531.0,810.0 C529.5,821.2 529.3,832.9 527.5,840.0 C525.7,847.1 522.9,849.6 520.0,852.5 C517.1,855.4 514.0,855.3 510.0,857.5 C506.0,859.7 498.3,864.2 496.0,865.5" fill="none" stroke="#101010" stroke-width="1.74" />
<path d="M526.8,698.6 L531.0,711.0 L544.6,724.5 L544.6,737.5 L531.0,731.6" fill="#f8f8f8" stroke="#101010" stroke-width="1.59" />
<path d="M531.0,711.0 L531.0,731.6" fill="none" stroke="#101010" stroke-width="1.45" />
<path d="M541.5,722.0 L541.5,736.0" fill="none" stroke="#101010" stroke-width="1.3" />
<ellipse cx="536.1" cy="717.8" rx="1.5" ry="1.9" transform="rotate(0 536.1 717.8)" fill="none" stroke="#101010" stroke-width="1.3" />
<ellipse cx="536.1" cy="729.6" rx="1.5" ry="1.9" transform="rotate(0 536.1 729.6)" fill="none" stroke="#101010" stroke-width="1.3" />
<path d="M531.0,810.0 L543.7,819.0 L543.7,842.9 L531.0,837.8Z" fill="#f8f8f8" stroke="#101010" stroke-width="1.59" />
<path d="M540.7,817.5 L540.7,841.5" fill="none" stroke="#101010" stroke-width="1.3" />
<ellipse cx="534.8" cy="823.4" rx="1.5" ry="1.9" transform="rotate(0 534.8 823.4)" fill="none" stroke="#101010" stroke-width="1.3" />
<ellipse cx="534.8" cy="836.1" rx="1.5" ry="1.9" transform="rotate(0 534.8 836.1)" fill="none" stroke="#101010" stroke-width="1.3" />
<path d="M468.5,858.5 L473.0,855.5 L478.5,857.5 L479.5,865.5 L474.5,869.0 L469.5,866.5Z" fill="#f8f8f8" stroke="#101010" stroke-width="1.74" />
<path d="M473.0,855.5 L474.0,863.0 L474.5,869.0" fill="none" stroke="#101010" stroke-width="1.16" />
<path d="M474.0,863.0 L479.5,860.5" fill="none" stroke="#101010" stroke-width="1.16" />
<path d="M479.5,859.8 L497.5,851.0 L499.0,855.0 L480.0,864.0" fill="#f8f8f8" stroke="#101010" stroke-width="1.45" />
<path d="M481.5,858.8 L482.8,863.0" fill="none" stroke="#101010" stroke-width="1.16" />
<path d="M483.9,857.7 L485.2,861.9" fill="none" stroke="#101010" stroke-width="1.16" />
<path d="M486.3,856.6 L487.6,860.8" fill="none" stroke="#101010" stroke-width="1.16" />
<path d="M488.7,855.4 L490.0,859.6" fill="none" stroke="#101010" stroke-width="1.16" />
<path d="M491.1,854.3 L492.4,858.5" fill="none" stroke="#101010" stroke-width="1.16" />
<path d="M493.5,853.2 L494.8,857.4" fill="none" stroke="#101010" stroke-width="1.16" />
<path d="M495.9,852.1 L497.2,856.3" fill="none" stroke="#101010" stroke-width="1.16" />
<ellipse cx="503.2" cy="850.5" rx="3.6" ry="4.6" transform="rotate(-25 503.2 850.5)" fill="#f8f8f8" stroke="#101010" stroke-width="2.32" />
<ellipse cx="515.8" cy="845.4" rx="5.2" ry="6.6" transform="rotate(-25 515.8 845.4)" fill="#f8f8f8" stroke="#101010" stroke-width="1.59" />
<ellipse cx="515.8" cy="845.4" rx="2.6" ry="3.4" transform="rotate(-25 515.8 845.4)" fill="none" stroke="#101010" stroke-width="1.45" />
<path d="M491.0,862.0 L494.0,868.0 L497.0,861.0" fill="none" stroke="#101010" stroke-width="1.45" />
<path d="M494.0,867.0 L511.0,858.5" fill="none" stroke="#101010" stroke-width="1.74" />
</g>
<g id="pipes" stroke-linecap="round" stroke-linejoin="round">
<path d="M270.1,535.1 C268.0,536.8 261.2,540.1 257.5,545.1 C253.9,550.1 250.1,557.6 248.0,565.1 C245.9,572.6 244.9,581.8 245.0,590.1 C245.2,598.5 246.7,608.1 248.8,615.2 C250.9,622.3 254.9,628.9 257.5,632.7 C260.2,636.5 263.4,637.3 264.6,638.2" fill="none" stroke="#101010" stroke-width="2.03" />
<path d="M292.6,563.1 C291.1,563.8 286.1,565.7 283.8,567.1 C281.5,568.5 279.7,570.9 278.8,571.6" fill="none" stroke="#101010" stroke-width="1.74" />
<path d="M269.7,534.2 L307.6,512.1 L339.2,491.6 L366.0,478.9 L396.0,460.0 L405.0,460.0 L405.0,491.6 L386.5,505.0 L364.4,523.1 L332.9,546.0 L312.3,557.1 L296.6,561.8Z" fill="#f8f8f8" stroke="#101010" stroke-width="0.0" />
<path d="M269.7,534.2 C271.3,533.8 276.0,531.0 279.2,531.8 C282.4,532.6 286.0,535.6 288.7,538.9 C291.3,542.2 293.8,547.9 295.0,551.5 C296.2,555.2 295.6,559.4 295.8,561.0" fill="none" stroke="#101010" stroke-width="1.89" />
<path d="M274.5,532.6 C275.9,532.3 280.1,530.1 283.2,531.0 C286.2,531.9 290.0,534.8 292.6,538.1 C295.3,541.4 297.7,547.1 298.9,550.8 C300.1,554.4 299.6,558.6 299.7,560.2" fill="none" stroke="#101010" stroke-width="1.89" />
<path d="M279.2,531.8 C280.5,531.4 284.2,528.8 287.1,529.4 C290.0,530.1 293.9,532.6 296.6,535.8 C299.2,538.9 301.7,544.7 302.9,548.4 C304.1,552.1 303.5,556.3 303.7,557.9" fill="none" stroke="#101010" stroke-width="1.74" />
<path d="M269.7,534.2 L265.0,538.9" fill="none" stroke="#101010" stroke-width="1.89" />
<path d="M297.4,520.8 C298.7,521.9 302.9,524.6 305.2,527.9 C307.6,531.2 310.2,536.5 311.6,540.5 C312.9,544.4 313.3,548.8 313.1,551.5 C313.0,554.3 311.2,556.1 310.8,557.1" fill="none" stroke="#101010" stroke-width="1.89" />
<path d="M303.7,517.6 C305.1,518.8 309.8,521.4 312.3,524.7 C314.8,528.0 317.3,533.4 318.7,537.3 C320.0,541.3 320.4,545.5 320.2,548.4 C320.1,551.3 318.3,553.6 317.9,554.7" fill="none" stroke="#101010" stroke-width="1.89" />
<path d="M310.8,557.1 L317.9,554.7" fill="none" stroke="#101010" stroke-width="1.45" />
<path d="M297.4,520.8 C295.9,521.2 291.0,521.7 288.7,523.1 C286.4,524.5 284.3,527.3 283.6,529.1 C283.0,531.0 284.5,533.3 284.7,534.2" fill="none" stroke="#101010" stroke-width="1.74" />
<path d="M298.9,522.3 C297.6,522.8 293.0,523.7 291.0,525.0 C289.1,526.3 287.8,529.4 287.1,530.2" fill="none" stroke="#101010" stroke-width="1.45" />
<path d="M290.3,515.2 L296.6,509.7 L298.9,513.7 L293.4,520.0Z" fill="#f8f8f8" stroke="#101010" stroke-width="1.59" />
<path d="M296.6,516.0 L302.9,512.9 L305.2,517.6 L298.9,522.3Z" fill="#f8f8f8" stroke="#101010" stroke-width="1.59" />
<path d="M294.2,515.2 L302.1,515.6" fill="none" stroke="#101010" stroke-width="1.89" />
<path d="M306.8,513.7 C308.5,513.8 313.8,512.9 317.1,514.5 C320.4,516.0 324.1,519.6 326.6,523.1 C329.1,526.7 331.3,531.8 332.1,535.8 C332.9,539.7 332.1,544.3 331.3,546.8 C330.5,549.3 328.0,550.1 327.3,550.8" fill="none" stroke="#101010" stroke-width="2.03" />
<path d="M307.6,519.2 C308.9,519.2 312.9,518.0 315.5,519.2 C318.1,520.4 321.3,523.3 323.4,526.3 C325.5,529.3 327.5,533.9 328.1,537.3 C328.8,540.8 328.0,544.7 327.3,546.8 C326.7,548.9 324.7,549.4 324.2,550.0" fill="none" stroke="#101010" stroke-width="1.74" />
<path d="M308.4,516.3 C309.8,516.4 314.2,515.6 317.1,516.8 C320.0,518.0 324.3,522.3 325.8,523.4" fill="none" stroke="#101010" stroke-width="4.64" />
<path d="M327.3,550.8 L324.2,550.0" fill="none" stroke="#101010" stroke-width="1.45" />
<path d="M307.6,512.1 L339.2,491.6" fill="none" stroke="#101010" stroke-width="3.77" />
<path d="M332.9,546.0 L364.4,523.1" fill="none" stroke="#101010" stroke-width="1.89" />
<path d="M353.4,485.3 C355.0,486.3 360.1,488.7 362.9,491.6 C365.6,494.5 368.4,498.9 370.0,502.6 C371.5,506.3 372.5,510.6 372.3,513.7 C372.2,516.7 369.7,519.6 369.2,520.8" fill="none" stroke="#101010" stroke-width="1.89" />
<path d="M347.1,489.2 C348.6,490.1 353.8,492.0 356.5,494.7 C359.3,497.5 362.1,502.1 363.6,505.8 C365.2,509.5 366.0,514.1 366.0,516.8 C366.0,519.6 364.0,521.4 363.6,522.3" fill="none" stroke="#101010" stroke-width="1.89" />
<path d="M369.2,520.8 L363.6,522.3" fill="none" stroke="#101010" stroke-width="1.45" />
<path d="M350.2,486.8 C349.2,487.1 345.3,487.6 343.9,488.4 C342.5,489.3 342.3,491.3 342.0,491.9" fill="none" stroke="#101010" stroke-width="1.59" />
<path d="M347.9,478.2 L355.0,471.8 L357.3,475.8 L351.0,482.1Z" fill="#f8f8f8" stroke="#101010" stroke-width="1.59" />
<path d="M355.0,478.9 L361.6,475.0 L363.6,480.5 L357.3,485.3Z" fill="#f8f8f8" stroke="#101010" stroke-width="1.59" />
<path d="M351.8,477.4 L360.5,478.9" fill="none" stroke="#101010" stroke-width="1.89" />
<path d="M367.6,480.5 C368.9,480.4 373.0,478.7 375.5,479.7 C378.0,480.8 380.6,483.8 382.6,486.8 C384.6,489.9 386.7,494.7 387.3,497.9 C388.0,501.0 387.3,504.1 386.5,505.8 C385.7,507.5 383.2,507.7 382.6,508.1" fill="none" stroke="#101010" stroke-width="2.03" />
<path d="M368.4,485.3 C369.6,485.1 373.4,483.4 375.5,484.5 C377.6,485.5 379.6,488.8 381.0,491.6 C382.5,494.3 383.9,498.5 384.2,501.0 C384.4,503.5 382.8,505.6 382.6,506.6" fill="none" stroke="#101010" stroke-width="1.74" />
<path d="M369.2,482.6 C370.4,482.5 374.0,481.3 376.3,482.4 C378.5,483.5 381.5,488.1 382.6,489.2" fill="none" stroke="#101010" stroke-width="4.35" />
<path d="M366.0,478.9 C368.1,477.9 374.7,475.0 378.6,472.6 C382.6,470.3 386.6,467.2 389.7,464.7 C392.8,462.3 395.2,460.8 397.4,458.0 C399.6,455.2 401.1,451.2 403.0,448.0 C404.9,444.8 407.2,441.7 409.0,439.0 C410.8,436.3 413.2,433.2 414.0,432.0" fill="none" stroke="#101010" stroke-width="2.03" />
<path d="M386.5,505.0 C389.6,502.7 399.7,495.7 405.0,491.6 C410.2,487.4 414.5,484.4 418.0,480.0 C421.5,475.6 423.7,469.7 426.0,465.0 C428.3,460.3 430.2,455.3 432.0,452.0 C433.8,448.7 436.2,446.2 437.0,445.0" fill="none" stroke="#101010" stroke-width="2.03" />
<path d="M576.7,445.6 C574.5,446.3 568.2,447.4 563.8,449.7 C559.4,451.9 553.7,455.7 550.3,459.1 C546.9,462.5 544.9,465.9 543.5,470.0 C542.2,474.0 541.7,479.0 542.2,483.5 C542.6,488.0 544.2,493.4 546.2,497.0 C548.3,500.6 551.7,502.5 554.4,505.0 C557.1,507.5 559.8,510.2 562.5,511.9 C565.2,513.6 569.2,514.7 570.6,515.3" fill="none" stroke="#101010" stroke-width="2.03" />
<path d="M576.7,445.6 C578.4,446.5 584.1,448.5 586.8,451.0 C589.5,453.5 591.9,457.3 592.9,460.5 C593.9,463.6 593.7,467.5 592.9,470.0 C592.1,472.4 589.9,474.7 588.2,475.4 C586.5,476.0 583.9,474.7 582.8,474.0 C581.6,473.3 581.4,471.8 581.2,471.3" fill="none" stroke="#101010" stroke-width="1.89" />
<path d="M582.1,472.7 L595.0,483.5" fill="none" stroke="#101010" stroke-width="3.19" />
<path d="M551.7,457.1 C551.4,455.9 550.2,453.2 550.3,449.7 C550.4,446.2 551.0,439.4 552.3,436.1 C553.7,432.9 556.2,431.3 558.4,430.0 C560.6,428.8 562.7,428.3 565.5,428.7 C568.2,429.0 570.0,430.6 574.7,432.1 C579.3,433.5 588.4,434.5 593.6,437.5 C598.8,440.4 601.9,445.6 605.8,449.7 C609.6,453.7 614.6,459.1 616.6,461.8 C618.6,464.6 619.8,463.5 618.0,466.2 C616.2,468.9 608.4,475.6 605.8,478.1 C603.2,480.6 603.0,480.6 602.4,481.0" fill="none" stroke="#101010" stroke-width="2.03" />
<path d="M558.4,430.0 C560.2,429.2 565.9,426.8 569.2,425.3 C572.6,423.8 573.5,421.4 578.7,421.2 C583.9,421.1 595.0,422.8 600.4,424.6 C605.8,426.4 606.0,427.4 611.2,432.1 C616.4,436.7 627.9,448.1 631.5,452.4 C635.1,456.6 635.1,454.7 632.8,457.5 C630.6,460.3 622.5,465.5 618.0,469.3 C613.4,473.0 607.8,478.3 605.8,480.1" fill="none" stroke="#101010" stroke-width="2.17" />
<path d="M565.5,428.7 C567.0,428.1 572.2,426.1 574.7,425.3 C577.1,424.5 576.3,423.6 580.3,423.9 C584.4,424.3 594.1,425.6 599.0,427.3 C603.9,429.0 604.9,429.8 609.8,434.1 C614.8,438.4 625.5,449.1 628.8,453.0 C632.1,457.0 631.4,455.6 629.6,457.8 C627.8,460.0 619.9,464.8 618.0,466.2" fill="none" stroke="#101010" stroke-width="1.45" />
<path d="M593.6,437.5 L593.3,430.7" fill="none" stroke="#101010" stroke-width="1.59" />
<path d="M574.7,432.1 L577.4,427.3" fill="none" stroke="#101010" stroke-width="1.3" />
<ellipse cx="561.8" cy="438.8" rx="3.6" ry="4.8" transform="rotate(-25 561.8 438.8)" fill="#f8f8f8" stroke="#101010" stroke-width="1.89" />
<ellipse cx="562.3" cy="439.1" rx="2.4" ry="3.6" transform="rotate(-25 562.3 439.1)" fill="none" stroke="#101010" stroke-width="1.3" />
<ellipse cx="605.8" cy="466.6" rx="3.6" ry="4.8" transform="rotate(-25 605.8 466.6)" fill="#f8f8f8" stroke="#101010" stroke-width="1.89" />
<ellipse cx="606.3" cy="466.8" rx="2.4" ry="3.6" transform="rotate(-25 606.3 466.8)" fill="none" stroke="#101010" stroke-width="1.3" />
<ellipse cx="620.4" cy="458.0" rx="3.6" ry="4.8" transform="rotate(-25 620.4 458.0)" fill="#f8f8f8" stroke="#101010" stroke-width="1.89" />
<ellipse cx="620.9" cy="458.3" rx="2.4" ry="3.6" transform="rotate(-25 620.9 458.3)" fill="none" stroke="#101010" stroke-width="1.3" />
<path d="M595.0,432.7 L600.4,430.7" fill="none" stroke="#101010" stroke-width="1.01" />
<path d="M597.9,435.7 L603.3,433.7" fill="none" stroke="#101010" stroke-width="1.01" />
<path d="M600.9,438.7 L606.3,436.7" fill="none" stroke="#101010" stroke-width="1.01" />
<path d="M603.9,441.7 L609.3,439.6" fill="none" stroke="#101010" stroke-width="1.01" />
<path d="M606.9,444.6 L612.3,442.6" fill="none" stroke="#101010" stroke-width="1.01" />
<path d="M609.8,447.6 L615.3,445.6" fill="none" stroke="#101010" stroke-width="1.01" />
<path d="M612.8,450.6 L618.2,448.6" fill="none" stroke="#101010" stroke-width="1.01" />
<path d="M615.8,453.6 L621.2,451.5" fill="none" stroke="#101010" stroke-width="1.01" />
<path d="M596.3,431.4 L616.6,451.7" fill="none" stroke="#101010" stroke-width="0.87" />
<path d="M597.9,430.7 L618.2,451.0" fill="none" stroke="#101010" stroke-width="0.87" />
<path d="M599.6,430.0 L619.9,450.3" fill="none" stroke="#101010" stroke-width="0.87" />
<path d="M601.2,429.4 L621.5,449.7" fill="none" stroke="#101010" stroke-width="0.87" />
<path d="M576.0,427.3 L578.0,425.3" fill="none" stroke="#101010" stroke-width="0.87" />
<path d="M579.0,427.7 L581.0,425.7" fill="none" stroke="#101010" stroke-width="0.87" />
<path d="M582.0,428.1 L584.0,426.1" fill="none" stroke="#101010" stroke-width="0.87" />
<path d="M584.9,428.5 L587.0,426.5" fill="none" stroke="#101010" stroke-width="0.87" />
<path d="M587.9,429.0 L589.9,426.9" fill="none" stroke="#101010" stroke-width="0.87" />
<path d="M590.9,429.4 L592.9,427.3" fill="none" stroke="#101010" stroke-width="0.87" />
<path d="M588.1,483.4 L612.9,501.6 L657.9,522.1 L681.5,542.6 L700.0,551.3 L700.0,580.0 L674.4,574.2 L635.8,556.0 L601.8,535.5 L578.2,516.1 L570.3,506.3 L571.8,496.8 L578.9,487.4Z" fill="#f8f8f8" stroke="#101010" stroke-width="0.0" />
<path d="M588.1,483.4 C586.6,484.1 581.6,485.1 578.9,487.4 C576.2,489.6 573.3,493.7 571.8,496.8 C570.4,500.0 570.0,503.5 570.3,506.3 C570.5,509.1 572.1,511.8 573.4,513.4 C574.7,515.0 577.4,515.6 578.2,516.1" fill="none" stroke="#101010" stroke-width="2.03" />
<path d="M591.6,485.0 C590.3,485.7 586.0,486.8 583.7,488.9 C581.3,491.0 578.7,494.6 577.4,497.6 C576.0,500.6 575.7,504.5 575.8,507.1 C575.9,509.7 577.4,512.1 578.2,513.4 C578.9,514.7 580.1,514.7 580.5,515.0" fill="none" stroke="#101010" stroke-width="1.74" />
<path d="M578.6,490.2 C579.7,489.5 582.8,486.2 585.3,485.8 C587.7,485.4 592.1,487.4 593.5,487.7" fill="none" stroke="#101010" stroke-width="4.64" />
<path d="M560.0,507.1 L571.8,515.8" fill="none" stroke="#101010" stroke-width="1.89" />
<path d="M597.9,493.7 C596.6,494.7 592.4,497.4 590.0,500.0 C587.6,502.6 585.0,506.3 583.7,509.5 C582.4,512.6 581.7,515.9 582.1,518.9 C582.5,522.0 584.1,525.6 586.0,527.6 C588.0,529.6 592.6,530.2 593.9,530.8" fill="none" stroke="#101010" stroke-width="1.89" />
<path d="M605.0,496.0 C603.4,497.4 598.0,501.0 595.5,503.9 C593.0,506.8 591.0,510.4 590.0,513.4 C588.9,516.4 588.8,519.5 589.2,522.1 C589.6,524.7 591.0,527.7 592.4,529.2 C593.7,530.6 596.3,530.5 597.1,530.8" fill="none" stroke="#101010" stroke-width="1.89" />
<path d="M593.9,530.8 L597.1,530.8" fill="none" stroke="#101010" stroke-width="1.45" />
<path d="M596.0,483.4 L602.6,481.8 L605.0,493.7 L598.7,496.0Z" fill="#f8f8f8" stroke="#101010" stroke-width="1.59" />
<path d="M602.6,481.0 L610.2,483.4 L612.1,493.7 L605.8,495.3Z" fill="#f8f8f8" stroke="#101010" stroke-width="1.59" />
<ellipse cx="599.8" cy="489.7" rx="1.7" ry="2.0" transform="rotate(0 599.8 489.7)" fill="none" stroke="#101010" stroke-width="1.45" />
<path d="M612.1,493.7 C612.7,494.6 614.8,497.8 616.0,499.2 C617.2,500.6 618.7,501.8 619.2,502.4" fill="none" stroke="#101010" stroke-width="1.59" />
<path d="M612.9,501.6 C611.4,502.5 606.7,504.5 604.2,507.1 C601.7,509.7 599.1,514.1 597.9,517.3 C596.7,520.6 596.4,523.9 597.1,526.8 C597.7,529.7 600.1,533.0 601.8,534.7 C603.5,536.4 606.4,536.7 607.3,537.1" fill="none" stroke="#101010" stroke-width="1.89" />
<path d="M612.9,501.6 L657.9,522.1" fill="none" stroke="#101010" stroke-width="4.06" />
<path d="M601.8,535.5 L635.8,556.0" fill="none" stroke="#101010" stroke-width="2.03" />
<path d="M649.2,518.9 C647.5,519.6 642.2,520.5 638.9,522.9 C635.6,525.2 631.5,529.6 629.4,533.1 C627.3,536.7 626.3,540.9 626.3,544.2 C626.3,547.5 627.9,550.9 629.4,552.9 C631.0,554.8 634.7,555.5 635.8,556.0" fill="none" stroke="#101010" stroke-width="2.03" />
<path d="M650.8,522.1 C649.3,522.7 644.8,523.9 642.1,526.0 C639.3,528.1 635.9,531.7 634.2,534.7 C632.5,537.7 631.8,541.3 631.8,544.2 C631.8,547.1 633.1,550.2 634.2,552.1 C635.2,553.9 637.5,554.7 638.1,555.2" fill="none" stroke="#101010" stroke-width="1.74" />
<path d="M635.4,528.1 C636.8,527.1 641.0,523.2 643.6,522.4 C646.3,521.6 650.2,523.2 651.5,523.3" fill="none" stroke="#101010" stroke-width="4.64" />
<path d="M642.9,524.5 L652.3,528.7" fill="none" stroke="#101010" stroke-width="3.48" />
<path d="M654.7,531.6 C653.4,532.6 649.2,535.2 646.8,537.9 C644.4,540.5 641.8,544.2 640.5,547.3 C639.2,550.5 638.4,553.8 638.9,556.8 C639.4,559.8 641.5,563.5 643.6,565.5 C645.8,567.5 650.2,568.1 651.5,568.6" fill="none" stroke="#101010" stroke-width="1.89" />
<path d="M661.0,533.1 C659.6,534.4 654.7,538.1 652.3,541.0 C650.0,543.9 647.9,547.3 646.8,550.5 C645.8,553.6 645.5,557.2 646.0,560.0 C646.5,562.7 648.3,565.6 650.0,567.1 C651.7,568.5 655.2,568.4 656.3,568.6" fill="none" stroke="#101010" stroke-width="1.89" />
<path d="M651.5,568.6 L656.3,568.6" fill="none" stroke="#101010" stroke-width="1.45" />
<path d="M652.3,518.9 L658.6,517.3 L661.0,530.8 L654.7,532.3Z" fill="#f8f8f8" stroke="#101010" stroke-width="1.59" />
<path d="M658.6,516.6 L667.3,520.5 L668.9,531.6 L661.8,532.3Z" fill="#f8f8f8" stroke="#101010" stroke-width="1.59" />
<ellipse cx="655.8" cy="526.0" rx="1.7" ry="2.0" transform="rotate(0 655.8 526.0)" fill="none" stroke="#101010" stroke-width="1.45" />
<path d="M668.9,531.6 C669.7,532.3 672.5,534.7 673.6,536.3 C674.8,537.9 675.6,540.5 676.0,541.3" fill="none" stroke="#101010" stroke-width="1.59" />
<path d="M670.5,542.6 C669.4,543.4 666.0,545.0 664.2,547.3 C662.3,549.7 660.0,553.6 659.4,556.8 C658.9,560.0 660.0,563.9 661.0,566.3 C662.1,568.6 665.0,570.2 665.7,571.0" fill="none" stroke="#101010" stroke-width="1.89" />
<path d="M676.8,541.8 C675.5,542.7 671.0,544.8 668.9,547.3 C666.8,549.8 664.8,553.4 664.2,556.8 C663.5,560.2 663.9,565.1 665.0,567.9 C666.0,570.6 669.6,572.5 670.5,573.4" fill="none" stroke="#101010" stroke-width="1.89" />
<path d="M681.5,542.6 C680.2,543.5 675.7,545.6 673.6,548.1 C671.5,550.6 669.6,554.2 668.9,557.6 C668.2,561.0 668.8,565.9 669.7,568.6 C670.6,571.4 673.6,573.2 674.4,574.2" fill="none" stroke="#101010" stroke-width="1.89" />
<path d="M681.5,542.6 C684.6,544.0 694.0,546.7 700.0,551.3 C706.0,555.9 713.5,563.7 717.7,570.2 C721.9,576.7 724.0,584.4 725.2,590.2 C726.4,596.0 725.8,600.0 725.0,605.0 C724.2,610.0 723.2,614.2 720.2,620.0 C717.2,625.8 708.7,638.0 707.0,640.0 C705.3,642.0 712.6,629.5 710.0,631.8 C707.4,634.2 694.6,650.3 691.5,653.9" fill="none" stroke="#101010" stroke-width="2.61" />
<path d="M674.4,574.2 C676.4,575.1 683.6,576.5 686.3,580.0 C688.9,583.5 689.5,590.5 690.2,595.2 C690.9,599.9 691.2,604.5 690.5,608.0 C689.8,611.5 688.5,614.0 686.0,616.0 C683.5,618.0 679.6,616.8 675.7,620.0 C671.9,623.2 665.2,632.5 663.1,635.0" fill="none" stroke="#101010" stroke-width="2.03" />
<path d="M675.7,620.0 L710.0,631.8 L691.5,653.9 L672.6,672.1 L655.2,697.3 L633.1,728.9 L617.3,736.8 L603.9,750.1 L570.0,750.1 L570.0,733.6 L585.0,717.1 L596.0,705.2 L615.8,681.6 L641.8,653.1 L652.1,643.7 L663.1,635.0Z" fill="#f8f8f8" stroke="#101010" stroke-width="0.0" />
<path d="M675.7,620.0 L663.1,635.0" fill="none" stroke="#101010" stroke-width="2.03" />
<path d="M710.0,631.8 L691.5,653.9" fill="none" stroke="#101010" stroke-width="2.61" />
<path d="M663.1,635.8 C664.4,635.3 668.1,632.5 671.0,632.6 C673.9,632.8 677.6,634.5 680.5,636.6 C683.4,638.7 686.5,642.2 688.4,645.3 C690.2,648.3 691.0,653.1 691.5,654.7" fill="none" stroke="#101010" stroke-width="2.03" />
<path d="M662.3,641.3 C663.8,640.9 668.2,638.5 671.0,638.9 C673.8,639.3 676.8,641.6 678.9,643.7 C681.0,645.8 682.7,648.9 683.6,651.6 C684.6,654.2 684.3,658.1 684.4,659.5" fill="none" stroke="#101010" stroke-width="1.74" />
<path d="M664.7,637.0 C666.0,636.8 669.8,634.8 672.6,635.3 C675.4,635.8 679.8,639.4 681.3,640.2" fill="none" stroke="#101010" stroke-width="4.64" />
<path d="M652.1,643.7 C653.4,643.9 657.1,643.9 660.0,645.3 C662.9,646.6 666.5,648.9 669.4,651.6 C672.3,654.2 675.6,657.9 677.3,661.0 C679.0,664.2 679.3,668.9 679.7,670.5" fill="none" stroke="#101010" stroke-width="1.89" />
<path d="M648.9,651.6 C650.5,651.6 655.2,650.5 658.4,651.6 C661.5,652.6 665.2,655.2 667.9,657.9 C670.5,660.5 673.0,664.7 674.2,667.3 C675.4,670.0 674.8,672.6 675.0,673.7" fill="none" stroke="#101010" stroke-width="1.89" />
<path d="M679.7,670.5 L675.0,673.7" fill="none" stroke="#101010" stroke-width="1.45" />
<path d="M644.2,637.4 L650.5,631.0 L654.4,635.0 L648.1,642.1Z" fill="#f8f8f8" stroke="#101010" stroke-width="1.59" />
<path d="M652.1,636.6 L658.4,633.4 L660.8,639.7 L654.4,643.7Z" fill="#f8f8f8" stroke="#101010" stroke-width="1.59" />
<ellipse cx="656.5" cy="639.7" rx="1.6" ry="1.9" transform="rotate(0 656.5 639.7)" fill="none" stroke="#101010" stroke-width="1.45" />
<path d="M647.3,642.9 C646.8,643.9 645.2,647.7 644.2,649.2 C643.1,650.7 641.5,651.4 641.0,651.9" fill="none" stroke="#101010" stroke-width="1.59" />
<path d="M641.0,653.9 C642.3,653.5 646.0,651.3 648.9,651.6 C651.8,651.8 655.5,653.4 658.4,655.5 C661.3,657.6 664.2,660.9 666.3,664.2 C668.4,667.5 670.2,673.4 671.0,675.2" fill="none" stroke="#101010" stroke-width="1.89" />
<path d="M641.3,653.5 L615.8,681.6" fill="none" stroke="#101010" stroke-width="4.64" />
<path d="M672.6,672.1 L655.2,697.3" fill="none" stroke="#101010" stroke-width="2.03" />
<path d="M614.2,683.1 C615.8,682.7 620.2,680.5 623.7,680.8 C627.1,681.0 631.3,682.5 634.7,684.7 C638.1,686.9 642.1,691.0 644.2,694.2 C646.3,697.3 646.8,702.1 647.3,703.6" fill="none" stroke="#101010" stroke-width="2.03" />
<path d="M612.6,689.4 C614.2,688.9 618.7,686.0 622.1,686.3 C625.5,686.6 630.2,688.9 633.1,691.0 C636.0,693.1 638.1,696.3 639.4,698.9 C640.8,701.5 640.8,705.5 641.0,706.8" fill="none" stroke="#101010" stroke-width="1.74" />
<path d="M615.8,685.0 C617.2,684.7 621.3,682.8 624.5,683.1 C627.6,683.5 633.0,686.4 634.7,687.1" fill="none" stroke="#101010" stroke-width="4.93" />
<path d="M603.9,694.2 C605.4,694.2 609.6,693.1 612.6,694.2 C615.6,695.2 619.1,697.6 622.1,700.5 C625.1,703.4 628.9,707.9 630.8,711.5 C632.6,715.2 633.0,719.7 633.1,722.6 C633.3,725.5 631.8,727.8 631.6,728.9" fill="none" stroke="#101010" stroke-width="1.89" />
<path d="M596.8,702.1 C598.4,701.7 602.9,699.2 606.3,699.7 C609.7,700.2 614.2,702.7 617.3,705.2 C620.5,707.7 623.4,711.5 625.2,714.7 C627.1,717.9 628.4,721.5 628.4,724.2 C628.4,726.8 625.8,729.4 625.2,730.5" fill="none" stroke="#101010" stroke-width="1.89" />
<path d="M631.6,728.9 L625.2,730.5" fill="none" stroke="#101010" stroke-width="1.45" />
<path d="M603.9,694.2 C602.9,695.0 598.9,697.1 597.6,698.9 C596.3,700.8 595.8,703.6 596.0,705.2 C596.3,706.8 598.7,707.9 599.2,708.4" fill="none" stroke="#101010" stroke-width="1.74" />
<path d="M598.4,689.4 L603.9,683.1 L607.9,687.1 L602.4,694.2Z" fill="#f8f8f8" stroke="#101010" stroke-width="1.59" />
<path d="M606.3,688.7 L612.3,684.7 L615.0,691.0 L608.7,695.0Z" fill="#f8f8f8" stroke="#101010" stroke-width="1.59" />
<ellipse cx="610.7" cy="691.3" rx="1.6" ry="1.9" transform="rotate(0 610.7 691.3)" fill="none" stroke="#101010" stroke-width="1.45" />
<path d="M631.9,697.0 L646.5,706.0 L644.5,709.6 L630.0,700.5Z" fill="#f8f8f8" stroke="#101010" stroke-width="1.45" />
<path d="M633.1,698.0 L631.6,701.4" fill="none" stroke="#101010" stroke-width="1.16" />
<path d="M635.3,699.3 L633.8,702.8" fill="none" stroke="#101010" stroke-width="1.16" />
<path d="M637.6,700.7 L636.0,704.2" fill="none" stroke="#101010" stroke-width="1.16" />
<path d="M639.8,702.0 L638.2,705.5" fill="none" stroke="#101010" stroke-width="1.16" />
<path d="M642.0,703.4 L640.4,706.9" fill="none" stroke="#101010" stroke-width="1.16" />
<path d="M644.2,704.8 L642.6,708.2" fill="none" stroke="#101010" stroke-width="1.16" />
<path d="M646.5,708.4 L649.7,706.0 L654.4,707.6 L656.5,711.5 L653.6,716.3 L648.9,716.6 L646.2,713.1Z" fill="#f8f8f8" stroke="#101010" stroke-width="1.74" />
<path d="M637.9,714.7 L645.8,713.4" fill="none" stroke="#101010" stroke-width="1.59" />
<path d="M585.0,717.1 C586.4,716.1 590.6,711.9 593.7,711.5 C596.7,711.1 600.0,712.6 603.1,714.7 C606.3,716.8 610.0,721.0 612.6,724.2 C615.2,727.3 617.9,732.1 618.9,733.6" fill="none" stroke="#101010" stroke-width="1.89" />
<path d="M583.4,721.0 C584.9,720.2 589.1,716.5 592.1,716.3 C595.1,716.0 598.5,717.3 601.6,719.4 C604.6,721.5 607.9,725.9 610.2,728.9 C612.6,731.9 614.8,736.1 615.8,737.6" fill="none" stroke="#101010" stroke-width="1.89" />
<path d="M581.4,725.4 C582.8,724.7 587.2,721.2 590.2,721.0 C593.3,720.8 596.7,722.2 599.7,724.2 C602.6,726.1 605.7,730.0 607.9,732.8 C610.1,735.7 612.1,739.8 612.9,741.2" fill="none" stroke="#101010" stroke-width="1.89" />
<path d="M585.0,717.1 C583.3,718.4 579.2,722.6 575.0,725.2 C570.8,727.8 565.0,730.6 560.0,732.7 C555.0,734.8 549.7,737.1 545.0,738.0 C540.3,738.9 536.2,738.6 532.0,738.0 C527.8,737.4 523.5,734.2 520.0,734.5 C516.5,734.8 513.2,737.4 511.0,740.0 C508.8,742.6 506.7,746.5 506.5,750.0 C506.3,753.5 507.8,757.8 510.0,761.0 C512.2,764.2 515.8,767.1 520.0,769.0 C524.2,770.9 529.2,772.5 535.0,772.5 C540.8,772.5 547.5,771.0 555.0,769.0 C562.5,767.0 571.8,763.4 580.0,760.2 C588.2,757.0 598.4,753.2 603.9,750.1 C609.4,746.9 611.4,742.7 612.9,741.2" fill="#f8f8f8" stroke="#101010" stroke-width="2.03" />
<path d="M561.5,669.5 L565.0,666.5 L570.0,667.5 L571.5,672.0 L568.5,676.0 L563.5,675.0Z" fill="#f8f8f8" stroke="#101010" stroke-width="1.89" />
<ellipse cx="566.5" cy="671.0" rx="1.8" ry="2.2" transform="rotate(0 566.5 671.0)" fill="none" stroke="#101010" stroke-width="1.74" />
<ellipse cx="578.8" cy="678.9" rx="3.2" ry="4.0" transform="rotate(-30 578.8 678.9)" fill="#f8f8f8" stroke="#101010" stroke-width="2.17" />
</g>
<g id="leaders" fill="none" stroke="#3a3a3a" stroke-width="0.8">
<polyline points="491.5,27.5 464.0,27.5 240.0,33.0"/>
<polyline points="491.5,44.5 464.0,44.5 300.0,51.0"/>
<polyline points="491.5,60.0 464.0,60.0 281.0,66.0"/>
<polyline points="491.5,76.2 464.0,76.2 239.0,84.0"/>
<polyline points="491.5,93.4 464.0,93.4 255.0,99.5"/>
<polyline points="491.5,111.4 464.0,111.4 166.0,123.0"/>
<polyline points="491.5,128.3 464.0,128.3 338.0,136.0"/>
<polyline points="491.5,145.7 464.0,145.7 168.0,166.0"/>
<polyline points="491.5,162.6 464.0,162.6 240.0,180.0 164.0,221.0"/>
<polyline points="491.5,178.4 464.0,178.4 250.0,199.0 165.0,239.0"/>
<polyline points="491.5,193.3 462.0,193.3 360.0,202.7"/>
<polyline points="491.5,208.4 462.0,208.4 347.4,215.1"/>
<polyline points="491.5,226.0 465.0,226.0 337.0,223.0"/>
<polyline points="491.5,241.0 462.0,241.0 329.0,231.0"/>
<polyline points="491.5,257.3 464.6,257.3 318.0,241.0"/>
<polyline points="491.5,274.9 466.0,273.8 376.7,264.7"/>
<polyline points="149.5,352.0 180.0,352.0 299.0,302.0"/>
<polyline points="149.5,368.6 177.0,368.6 299.0,309.8"/>
<polyline points="149.5,383.8 179.0,383.0 287.0,338.0"/>
<polyline points="149.5,399.0 180.6,399.0 337.8,374.0"/>
<polyline points="149.5,414.6 179.0,414.6 356.4,388.2"/>
<polyline points="149.5,431.5 184.0,430.5 434.2,401.7"/>
<polyline points="149.5,446.7 180.6,446.7 410.5,426.0"/>
<polyline points="149.5,463.3 180.6,463.3 407.0,442.3"/>
<polyline points="149.5,479.5 182.0,479.5 345.0,486.0"/>
<polyline points="149.5,498.0 190.0,498.0 329.0,501.5"/>
<polyline points="149.5,516.7 182.0,516.5 275.0,582.0"/>
<polyline points="731.4,483.0 704.0,483.0 640.0,508.0"/>
<polyline points="731.0,501.5 706.0,501.5 661.0,521.0"/>
<polyline points="734.8,641.6 703.0,641.6"/>
<polyline points="734.8,657.4 690.0,658.5 572.0,669.0"/>
<polyline points="734.8,675.4 690.0,676.5 582.0,681.0"/>
<polyline points="734.8,693.9 700.0,694.5 655.0,698.0"/>
<polyline points="734.8,709.2 700.0,709.5 655.0,713.0"/>
<polyline points="734.8,725.5 700.0,725.5 634.0,726.0"/>
<polyline points="625.0,832.3 514.0,852.0"/>
<polyline points="625.0,848.2 507.6,854.3"/>
<polyline points="625.0,863.7 479.0,867.8"/>
</g>
</svg>
</body></html>
